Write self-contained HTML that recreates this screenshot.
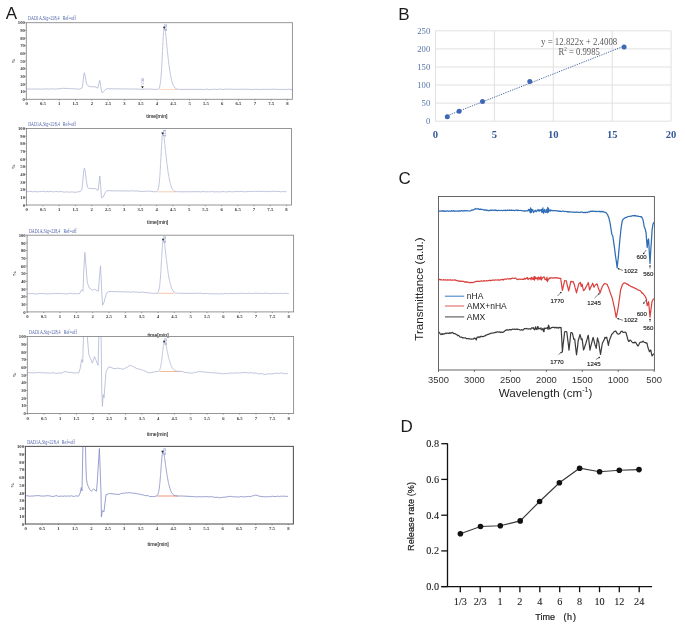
<!DOCTYPE html>
<html><head><meta charset="utf-8"><style>
html,body{margin:0;padding:0;background:#fff;overflow:hidden;}
svg{display:block;will-change:transform;}
</style></head><body>
<svg width="685" height="625" viewBox="0 0 685 625">
<rect width="685" height="625" fill="#fff"/>
<text x="5.7" y="19.0" font-family='"Liberation Sans", sans-serif' font-size="17" fill="#1a1a1a">A</text>
<text x="398.3" y="20.0" font-family='"Liberation Sans", sans-serif' font-size="17" fill="#1a1a1a">B</text>
<text x="398.6" y="183.6" font-family='"Liberation Sans", sans-serif' font-size="17" fill="#1a1a1a">C</text>
<text x="400.6" y="432.0" font-family='"Liberation Sans", sans-serif' font-size="17" fill="#1a1a1a">D</text>

<clipPath id="cp0"><rect x="26.3" y="22.7" width="266.1" height="76.6"/></clipPath>
<text x="28.1" y="20.1" font-family='"Liberation Serif", serif' font-size="5.3" fill="#4b5fa8" textLength="31.5" lengthAdjust="spacingAndGlyphs">DAD1A,Sig=228,4</text>
<text x="62.7" y="20.1" font-family='"Liberation Serif", serif' font-size="5.3" fill="#4b5fa8" textLength="13.1" lengthAdjust="spacingAndGlyphs">Ref=off</text>
<line x1="159.0" y1="89.4" x2="177.0" y2="89.4" stroke="#f6cfb4" stroke-width="0.8"/>
<polyline clip-path="url(#cp0)" fill="none" stroke="#b0b5d4" stroke-width="0.80" stroke-linejoin="round" points="27.0,89.0 28.5,89.0 30.0,89.0 31.5,89.2 33.0,89.0 34.5,89.0 36.0,89.1 37.5,88.9 39.0,89.1 40.5,89.1 42.0,89.2 43.5,88.9 45.0,89.1 46.5,89.0 48.0,88.8 49.5,89.1 51.0,89.0 52.5,88.7 54.0,89.1 55.5,89.1 57.0,88.9 58.5,88.8 60.0,88.7 61.7,88.4 63.3,88.3 65.0,88.4 66.4,88.5 67.8,88.4 69.2,88.5 70.6,88.7 72.0,88.9 73.6,88.7 75.2,88.9 76.8,88.9 78.4,89.2 80.0,89.0 82.0,88.0 82.8,85.0 83.6,76.0 84.3,72.7 85.0,75.0 85.8,80.5 86.8,84.2 88.0,85.8 90.0,86.6 92.0,86.9 94.0,86.6 96.0,87.2 97.8,88.2 98.8,84.0 99.8,80.4 100.6,85.0 101.2,90.0 102.0,92.6 103.0,92.4 104.5,90.5 106.0,89.1 107.5,88.6 110.0,88.8 130.0,89.0 131.4,89.0 132.9,89.1 134.3,89.0 135.7,89.1 137.1,89.1 138.6,89.0 140.0,89.3 141.4,89.4 142.9,89.3 144.3,89.2 145.7,89.1 147.1,89.0 148.6,89.1 150.0,89.2 151.4,89.0 152.8,89.4 154.2,89.2 155.6,89.5 157.0,89.3 157.5,89.4 157.7,89.3 157.9,89.2 158.1,89.1 158.2,89.1 158.3,89.0 158.4,89.0 158.5,88.9 158.6,88.8 158.6,88.8 159.1,88.1 159.6,86.9 159.9,85.6 160.1,84.4 160.3,83.1 160.5,81.8 160.6,80.6 160.8,79.3 160.9,78.1 161.0,76.8 161.1,75.5 161.2,74.3 161.3,73.0 161.4,71.8 161.5,70.5 161.5,69.2 161.6,68.0 161.7,66.7 161.8,65.5 161.8,64.2 161.9,62.9 162.0,61.7 162.0,60.4 162.1,59.2 162.2,57.9 162.2,56.6 162.3,55.4 162.4,54.1 162.4,52.9 162.5,51.6 162.5,50.3 162.6,49.1 162.7,47.8 162.7,46.6 162.8,45.3 162.9,44.0 162.9,42.8 163.0,41.5 163.1,40.3 163.1,39.0 163.2,37.7 163.3,36.5 163.4,35.2 163.4,34.0 163.5,32.7 163.6,31.4 163.7,30.2 163.9,28.9 164.0,27.7 164.4,26.4 164.4,26.4 164.9,27.7 165.1,28.9 165.3,30.2 165.4,31.4 165.6,32.7 165.7,34.0 165.8,35.2 166.0,36.5 166.1,37.7 166.2,39.0 166.3,40.3 166.4,41.5 166.6,42.8 166.7,44.0 166.8,45.3 166.9,46.6 167.1,47.8 167.2,49.1 167.3,50.3 167.4,51.6 167.6,52.9 167.7,54.1 167.8,55.4 168.0,56.6 168.1,57.9 168.3,59.2 168.4,60.4 168.6,61.7 168.7,62.9 168.9,64.2 169.0,65.5 169.2,66.7 169.4,68.0 169.6,69.2 169.8,70.5 170.0,71.8 170.2,73.0 170.4,74.3 170.6,75.5 170.9,76.8 171.1,78.1 171.4,79.3 171.7,80.6 172.1,81.8 172.4,83.1 172.9,84.4 173.4,85.6 174.1,86.9 175.2,88.1 176.2,88.8 176.3,88.8 176.5,88.9 176.7,89.0 176.8,89.0 177.1,89.1 177.3,89.1 177.7,89.2 178.1,89.3 178.9,89.3 182.0,89.4 200.0,89.4 201.4,89.3 202.9,89.6 204.3,89.6 205.7,89.1 207.1,89.2 208.6,89.6 210.0,89.4 211.4,89.6 212.9,89.3 214.3,89.1 215.7,89.4 217.1,89.5 218.6,89.2 220.0,89.1 221.4,89.2 222.9,89.6 224.3,89.4 225.7,89.1 227.1,89.2 228.6,89.1 230.0,89.3 231.4,89.1 232.9,89.5 234.3,89.2 235.7,89.3 237.1,89.3 238.6,89.2 240.0,89.4 241.4,89.2 242.9,89.4 244.3,89.2 245.7,89.3 247.1,89.2 248.6,89.2 250.0,89.6 251.4,89.5 252.9,89.3 254.3,89.6 255.7,89.2 257.1,89.3 258.6,89.6 260.0,89.4 261.4,89.5 262.8,89.2 264.2,89.6 265.6,89.3 267.0,89.3 268.5,89.5 269.9,89.3 271.3,89.3 272.7,89.2 274.1,89.2 275.5,89.4 276.9,89.3 278.3,89.5 279.7,89.3 281.1,89.4 282.5,89.6 283.9,89.4 285.4,89.4 286.8,89.6 288.2,89.2 289.6,89.2 291.0,89.6 292.4,89.4"/>
<rect x="26.3" y="22.7" width="266.1" height="76.6" fill="none" stroke="#8a8a8a" stroke-width="0.90"/>
<line x1="25.1" y1="99.3" x2="26.3" y2="99.3" stroke="#666" stroke-width="0.6"/>
<text x="24.9" y="100.9" font-family='"Liberation Serif", serif' font-size="4.7" font-weight="bold" fill="#333" text-anchor="end">0</text>
<line x1="25.1" y1="91.6" x2="26.3" y2="91.6" stroke="#666" stroke-width="0.6"/>
<text x="24.9" y="93.2" font-family='"Liberation Serif", serif' font-size="4.7" font-weight="bold" fill="#333" text-anchor="end">10</text>
<line x1="25.1" y1="84.0" x2="26.3" y2="84.0" stroke="#666" stroke-width="0.6"/>
<text x="24.9" y="85.6" font-family='"Liberation Serif", serif' font-size="4.7" font-weight="bold" fill="#333" text-anchor="end">20</text>
<line x1="25.1" y1="76.3" x2="26.3" y2="76.3" stroke="#666" stroke-width="0.6"/>
<text x="24.9" y="77.9" font-family='"Liberation Serif", serif' font-size="4.7" font-weight="bold" fill="#333" text-anchor="end">30</text>
<line x1="25.1" y1="68.7" x2="26.3" y2="68.7" stroke="#666" stroke-width="0.6"/>
<text x="24.9" y="70.3" font-family='"Liberation Serif", serif' font-size="4.7" font-weight="bold" fill="#333" text-anchor="end">40</text>
<line x1="25.1" y1="61.0" x2="26.3" y2="61.0" stroke="#666" stroke-width="0.6"/>
<text x="24.9" y="62.6" font-family='"Liberation Serif", serif' font-size="4.7" font-weight="bold" fill="#333" text-anchor="end">50</text>
<line x1="25.1" y1="53.3" x2="26.3" y2="53.3" stroke="#666" stroke-width="0.6"/>
<text x="24.9" y="54.9" font-family='"Liberation Serif", serif' font-size="4.7" font-weight="bold" fill="#333" text-anchor="end">60</text>
<line x1="25.1" y1="45.7" x2="26.3" y2="45.7" stroke="#666" stroke-width="0.6"/>
<text x="24.9" y="47.3" font-family='"Liberation Serif", serif' font-size="4.7" font-weight="bold" fill="#333" text-anchor="end">70</text>
<line x1="25.1" y1="38.0" x2="26.3" y2="38.0" stroke="#666" stroke-width="0.6"/>
<text x="24.9" y="39.6" font-family='"Liberation Serif", serif' font-size="4.7" font-weight="bold" fill="#333" text-anchor="end">80</text>
<line x1="25.1" y1="30.4" x2="26.3" y2="30.4" stroke="#666" stroke-width="0.6"/>
<text x="24.9" y="32.0" font-family='"Liberation Serif", serif' font-size="4.7" font-weight="bold" fill="#333" text-anchor="end">90</text>
<line x1="25.1" y1="22.7" x2="26.3" y2="22.7" stroke="#666" stroke-width="0.6"/>
<text x="24.9" y="24.3" font-family='"Liberation Serif", serif' font-size="4.7" font-weight="bold" fill="#333" text-anchor="end">100</text>
<text transform="translate(15.3,61.0) rotate(-90)" font-family='"Liberation Serif", serif' font-size="5.0" font-weight="bold" fill="#333" text-anchor="middle">%</text>
<line x1="26.6" y1="99.3" x2="26.6" y2="100.5" stroke="#666" stroke-width="0.6"/>
<text x="26.6" y="105.3" font-family='"Liberation Serif", serif' font-size="4.7" font-weight="bold" fill="#333" text-anchor="middle">0</text>
<line x1="42.9" y1="99.3" x2="42.9" y2="100.5" stroke="#666" stroke-width="0.6"/>
<text x="42.9" y="105.3" font-family='"Liberation Serif", serif' font-size="4.7" font-weight="bold" fill="#333" text-anchor="middle">0.5</text>
<line x1="59.2" y1="99.3" x2="59.2" y2="100.5" stroke="#666" stroke-width="0.6"/>
<text x="59.2" y="105.3" font-family='"Liberation Serif", serif' font-size="4.7" font-weight="bold" fill="#333" text-anchor="middle">1</text>
<line x1="75.5" y1="99.3" x2="75.5" y2="100.5" stroke="#666" stroke-width="0.6"/>
<text x="75.5" y="105.3" font-family='"Liberation Serif", serif' font-size="4.7" font-weight="bold" fill="#333" text-anchor="middle">1.5</text>
<line x1="91.8" y1="99.3" x2="91.8" y2="100.5" stroke="#666" stroke-width="0.6"/>
<text x="91.8" y="105.3" font-family='"Liberation Serif", serif' font-size="4.7" font-weight="bold" fill="#333" text-anchor="middle">2</text>
<line x1="108.1" y1="99.3" x2="108.1" y2="100.5" stroke="#666" stroke-width="0.6"/>
<text x="108.1" y="105.3" font-family='"Liberation Serif", serif' font-size="4.7" font-weight="bold" fill="#333" text-anchor="middle">2.5</text>
<line x1="124.4" y1="99.3" x2="124.4" y2="100.5" stroke="#666" stroke-width="0.6"/>
<text x="124.4" y="105.3" font-family='"Liberation Serif", serif' font-size="4.7" font-weight="bold" fill="#333" text-anchor="middle">3</text>
<line x1="140.7" y1="99.3" x2="140.7" y2="100.5" stroke="#666" stroke-width="0.6"/>
<text x="140.7" y="105.3" font-family='"Liberation Serif", serif' font-size="4.7" font-weight="bold" fill="#333" text-anchor="middle">3.5</text>
<line x1="157.0" y1="99.3" x2="157.0" y2="100.5" stroke="#666" stroke-width="0.6"/>
<text x="157.0" y="105.3" font-family='"Liberation Serif", serif' font-size="4.7" font-weight="bold" fill="#333" text-anchor="middle">4</text>
<line x1="173.3" y1="99.3" x2="173.3" y2="100.5" stroke="#666" stroke-width="0.6"/>
<text x="173.3" y="105.3" font-family='"Liberation Serif", serif' font-size="4.7" font-weight="bold" fill="#333" text-anchor="middle">4.5</text>
<line x1="189.6" y1="99.3" x2="189.6" y2="100.5" stroke="#666" stroke-width="0.6"/>
<text x="189.6" y="105.3" font-family='"Liberation Serif", serif' font-size="4.7" font-weight="bold" fill="#333" text-anchor="middle">5</text>
<line x1="205.9" y1="99.3" x2="205.9" y2="100.5" stroke="#666" stroke-width="0.6"/>
<text x="205.9" y="105.3" font-family='"Liberation Serif", serif' font-size="4.7" font-weight="bold" fill="#333" text-anchor="middle">5.5</text>
<line x1="222.2" y1="99.3" x2="222.2" y2="100.5" stroke="#666" stroke-width="0.6"/>
<text x="222.2" y="105.3" font-family='"Liberation Serif", serif' font-size="4.7" font-weight="bold" fill="#333" text-anchor="middle">6</text>
<line x1="238.5" y1="99.3" x2="238.5" y2="100.5" stroke="#666" stroke-width="0.6"/>
<text x="238.5" y="105.3" font-family='"Liberation Serif", serif' font-size="4.7" font-weight="bold" fill="#333" text-anchor="middle">6.5</text>
<line x1="254.8" y1="99.3" x2="254.8" y2="100.5" stroke="#666" stroke-width="0.6"/>
<text x="254.8" y="105.3" font-family='"Liberation Serif", serif' font-size="4.7" font-weight="bold" fill="#333" text-anchor="middle">7</text>
<line x1="271.1" y1="99.3" x2="271.1" y2="100.5" stroke="#666" stroke-width="0.6"/>
<text x="271.1" y="105.3" font-family='"Liberation Serif", serif' font-size="4.7" font-weight="bold" fill="#333" text-anchor="middle">7.5</text>
<line x1="287.4" y1="99.3" x2="287.4" y2="100.5" stroke="#666" stroke-width="0.6"/>
<text x="287.4" y="105.3" font-family='"Liberation Serif", serif' font-size="4.7" font-weight="bold" fill="#333" text-anchor="middle">8</text>
<text x="146.3" y="117.9" font-family='"Liberation Sans", sans-serif' font-size="6.2" fill="#111" stroke="#555" stroke-width="0.12" textLength="21.2" lengthAdjust="spacingAndGlyphs">time[min]</text>
<path d="M162.9,26.8 l2.6,0 l-1.3,2.3 z" fill="#222"/>
<text transform="translate(167.4,31.0) rotate(-90)" font-family='"Liberation Serif", serif' font-size="3.3" fill="#5a6fb5" textLength="6.8" lengthAdjust="spacingAndGlyphs">4.228</text>
<clipPath id="cp1"><rect x="26.4" y="128.5" width="265.1" height="76.5"/></clipPath>
<text x="28.2" y="125.9" font-family='"Liberation Serif", serif' font-size="5.3" fill="#4b5fa8" textLength="31.5" lengthAdjust="spacingAndGlyphs">DAD1A,Sig=228,4</text>
<text x="62.8" y="125.9" font-family='"Liberation Serif", serif' font-size="5.3" fill="#4b5fa8" textLength="13.1" lengthAdjust="spacingAndGlyphs">Ref=off</text>
<line x1="157.9" y1="191.8" x2="176.0" y2="191.8" stroke="#f4c2a0" stroke-width="0.8"/>
<polyline clip-path="url(#cp1)" fill="none" stroke="#b0b5d4" stroke-width="0.80" stroke-linejoin="round" points="26.6,191.5 28.1,191.7 29.5,191.4 31.0,191.3 32.5,191.7 33.9,191.8 35.4,191.4 36.8,191.8 38.3,191.8 39.8,191.6 41.2,191.5 42.7,191.3 44.1,191.3 45.6,191.9 47.1,191.4 48.5,191.7 50.0,191.6 51.4,191.5 52.9,191.9 54.3,191.7 55.7,191.6 57.1,191.5 58.6,191.9 60.0,191.5 61.4,191.7 62.9,191.9 64.3,192.1 65.7,192.0 67.1,191.8 68.6,192.2 70.0,192.0 71.7,192.0 73.3,192.0 75.0,192.4 76.7,192.0 78.3,191.8 80.0,191.6 81.6,190.2 82.6,184.0 83.6,172.0 84.4,168.1 85.2,171.0 86.2,180.0 87.5,187.3 89.0,188.6 91.0,188.3 93.0,188.8 95.0,188.4 97.0,189.5 98.0,190.4 99.0,183.0 99.8,176.0 100.6,185.0 101.5,197.8 103.3,196.8 105.0,193.0 106.8,190.6 110.0,190.8 130.0,191.0 131.4,190.8 132.9,190.9 134.3,191.0 135.7,191.2 137.1,190.9 138.6,191.1 140.0,191.4 141.4,191.5 142.9,191.4 144.3,191.4 145.7,191.4 147.1,191.1 148.6,191.1 150.0,191.4 151.5,191.2 153.0,191.8 154.5,191.7 156.0,191.7 156.5,191.8 156.6,191.6 156.7,191.5 156.8,191.4 156.9,191.4 157.0,191.3 157.1,191.3 157.1,191.2 157.6,190.6 158.1,189.4 158.4,188.3 158.6,187.1 158.8,185.9 159.0,184.7 159.1,183.5 159.3,182.3 159.4,181.2 159.5,180.0 159.6,178.8 159.7,177.6 159.8,176.4 159.9,175.3 160.0,174.1 160.0,172.9 160.1,171.7 160.2,170.5 160.3,169.3 160.3,168.2 160.4,167.0 160.5,165.8 160.5,164.6 160.6,163.4 160.7,162.2 160.7,161.1 160.8,159.9 160.9,158.7 160.9,157.5 161.0,156.3 161.0,155.2 161.1,154.0 161.2,152.8 161.2,151.6 161.3,150.4 161.4,149.2 161.4,148.1 161.5,146.9 161.6,145.7 161.6,144.5 161.7,143.3 161.8,142.2 161.9,141.0 161.9,139.8 162.0,138.6 162.1,137.4 162.2,136.2 162.4,135.1 162.5,133.9 162.9,132.7 162.9,132.7 163.4,133.9 163.7,135.1 163.9,136.2 164.0,137.4 164.2,138.6 164.3,139.8 164.5,141.0 164.6,142.2 164.7,143.3 164.9,144.5 165.0,145.7 165.1,146.9 165.2,148.1 165.4,149.2 165.5,150.4 165.6,151.6 165.7,152.8 165.9,154.0 166.0,155.2 166.1,156.3 166.2,157.5 166.4,158.7 166.5,159.9 166.6,161.1 166.8,162.2 166.9,163.4 167.1,164.6 167.2,165.8 167.4,167.0 167.5,168.2 167.7,169.3 167.9,170.5 168.0,171.7 168.2,172.9 168.4,174.1 168.6,175.3 168.8,176.4 169.0,177.6 169.2,178.8 169.5,180.0 169.7,181.2 170.0,182.3 170.3,183.5 170.6,184.7 171.0,185.9 171.4,187.1 172.0,188.3 172.7,189.4 173.7,190.6 174.7,191.2 174.8,191.3 175.0,191.3 175.2,191.4 175.4,191.4 175.6,191.5 175.8,191.6 176.2,191.6 176.6,191.7 177.4,191.7 182.0,191.8 200.0,191.7 201.4,192.0 202.9,191.4 204.3,191.8 205.7,191.7 207.1,191.8 208.6,191.6 210.0,192.0 211.4,191.4 212.9,191.7 214.3,191.8 215.7,191.9 217.1,191.8 218.6,191.8 220.0,191.8 221.4,191.9 222.9,191.5 224.3,191.7 225.7,191.9 227.1,191.8 228.6,191.6 230.0,191.6 231.4,191.8 232.9,191.8 234.3,191.6 235.7,191.6 237.1,191.5 238.6,191.6 240.0,191.6 241.4,191.3 242.9,191.6 244.3,191.8 245.7,191.7 247.1,191.6 248.6,191.4 250.0,191.6 251.4,191.5 252.9,191.4 254.3,191.6 255.7,191.2 257.1,191.6 258.6,191.1 260.0,191.4 261.5,191.5 262.9,191.4 264.4,191.3 265.9,191.6 267.4,191.5 268.8,191.5 270.3,191.7 271.8,191.3 273.2,191.2 274.7,191.4 276.2,191.6 277.7,191.4 279.1,191.3 280.6,191.8 282.1,191.7 283.6,191.5 285.0,191.8 286.5,191.6"/>
<rect x="26.4" y="128.5" width="265.1" height="76.5" fill="none" stroke="#8a8a8a" stroke-width="0.90"/>
<line x1="25.2" y1="205.0" x2="26.4" y2="205.0" stroke="#666" stroke-width="0.6"/>
<text x="25.0" y="206.6" font-family='"Liberation Serif", serif' font-size="4.7" font-weight="bold" fill="#333" text-anchor="end">0</text>
<line x1="25.2" y1="197.3" x2="26.4" y2="197.3" stroke="#666" stroke-width="0.6"/>
<text x="25.0" y="198.9" font-family='"Liberation Serif", serif' font-size="4.7" font-weight="bold" fill="#333" text-anchor="end">10</text>
<line x1="25.2" y1="189.7" x2="26.4" y2="189.7" stroke="#666" stroke-width="0.6"/>
<text x="25.0" y="191.3" font-family='"Liberation Serif", serif' font-size="4.7" font-weight="bold" fill="#333" text-anchor="end">20</text>
<line x1="25.2" y1="182.1" x2="26.4" y2="182.1" stroke="#666" stroke-width="0.6"/>
<text x="25.0" y="183.7" font-family='"Liberation Serif", serif' font-size="4.7" font-weight="bold" fill="#333" text-anchor="end">30</text>
<line x1="25.2" y1="174.4" x2="26.4" y2="174.4" stroke="#666" stroke-width="0.6"/>
<text x="25.0" y="176.0" font-family='"Liberation Serif", serif' font-size="4.7" font-weight="bold" fill="#333" text-anchor="end">40</text>
<line x1="25.2" y1="166.8" x2="26.4" y2="166.8" stroke="#666" stroke-width="0.6"/>
<text x="25.0" y="168.3" font-family='"Liberation Serif", serif' font-size="4.7" font-weight="bold" fill="#333" text-anchor="end">50</text>
<line x1="25.2" y1="159.1" x2="26.4" y2="159.1" stroke="#666" stroke-width="0.6"/>
<text x="25.0" y="160.7" font-family='"Liberation Serif", serif' font-size="4.7" font-weight="bold" fill="#333" text-anchor="end">60</text>
<line x1="25.2" y1="151.4" x2="26.4" y2="151.4" stroke="#666" stroke-width="0.6"/>
<text x="25.0" y="153.0" font-family='"Liberation Serif", serif' font-size="4.7" font-weight="bold" fill="#333" text-anchor="end">70</text>
<line x1="25.2" y1="143.8" x2="26.4" y2="143.8" stroke="#666" stroke-width="0.6"/>
<text x="25.0" y="145.4" font-family='"Liberation Serif", serif' font-size="4.7" font-weight="bold" fill="#333" text-anchor="end">80</text>
<line x1="25.2" y1="136.2" x2="26.4" y2="136.2" stroke="#666" stroke-width="0.6"/>
<text x="25.0" y="137.8" font-family='"Liberation Serif", serif' font-size="4.7" font-weight="bold" fill="#333" text-anchor="end">90</text>
<line x1="25.2" y1="128.5" x2="26.4" y2="128.5" stroke="#666" stroke-width="0.6"/>
<text x="25.0" y="130.1" font-family='"Liberation Serif", serif' font-size="4.7" font-weight="bold" fill="#333" text-anchor="end">100</text>
<text transform="translate(15.4,166.8) rotate(-90)" font-family='"Liberation Serif", serif' font-size="5.0" font-weight="bold" fill="#333" text-anchor="middle">%</text>
<line x1="26.7" y1="205.0" x2="26.7" y2="206.2" stroke="#666" stroke-width="0.6"/>
<text x="26.7" y="211.0" font-family='"Liberation Serif", serif' font-size="4.7" font-weight="bold" fill="#333" text-anchor="middle">0</text>
<line x1="42.9" y1="205.0" x2="42.9" y2="206.2" stroke="#666" stroke-width="0.6"/>
<text x="42.9" y="211.0" font-family='"Liberation Serif", serif' font-size="4.7" font-weight="bold" fill="#333" text-anchor="middle">0.5</text>
<line x1="59.2" y1="205.0" x2="59.2" y2="206.2" stroke="#666" stroke-width="0.6"/>
<text x="59.2" y="211.0" font-family='"Liberation Serif", serif' font-size="4.7" font-weight="bold" fill="#333" text-anchor="middle">1</text>
<line x1="75.4" y1="205.0" x2="75.4" y2="206.2" stroke="#666" stroke-width="0.6"/>
<text x="75.4" y="211.0" font-family='"Liberation Serif", serif' font-size="4.7" font-weight="bold" fill="#333" text-anchor="middle">1.5</text>
<line x1="91.7" y1="205.0" x2="91.7" y2="206.2" stroke="#666" stroke-width="0.6"/>
<text x="91.7" y="211.0" font-family='"Liberation Serif", serif' font-size="4.7" font-weight="bold" fill="#333" text-anchor="middle">2</text>
<line x1="107.9" y1="205.0" x2="107.9" y2="206.2" stroke="#666" stroke-width="0.6"/>
<text x="107.9" y="211.0" font-family='"Liberation Serif", serif' font-size="4.7" font-weight="bold" fill="#333" text-anchor="middle">2.5</text>
<line x1="124.1" y1="205.0" x2="124.1" y2="206.2" stroke="#666" stroke-width="0.6"/>
<text x="124.1" y="211.0" font-family='"Liberation Serif", serif' font-size="4.7" font-weight="bold" fill="#333" text-anchor="middle">3</text>
<line x1="140.4" y1="205.0" x2="140.4" y2="206.2" stroke="#666" stroke-width="0.6"/>
<text x="140.4" y="211.0" font-family='"Liberation Serif", serif' font-size="4.7" font-weight="bold" fill="#333" text-anchor="middle">3.5</text>
<line x1="156.6" y1="205.0" x2="156.6" y2="206.2" stroke="#666" stroke-width="0.6"/>
<text x="156.6" y="211.0" font-family='"Liberation Serif", serif' font-size="4.7" font-weight="bold" fill="#333" text-anchor="middle">4</text>
<line x1="172.8" y1="205.0" x2="172.8" y2="206.2" stroke="#666" stroke-width="0.6"/>
<text x="172.8" y="211.0" font-family='"Liberation Serif", serif' font-size="4.7" font-weight="bold" fill="#333" text-anchor="middle">4.5</text>
<line x1="189.1" y1="205.0" x2="189.1" y2="206.2" stroke="#666" stroke-width="0.6"/>
<text x="189.1" y="211.0" font-family='"Liberation Serif", serif' font-size="4.7" font-weight="bold" fill="#333" text-anchor="middle">5</text>
<line x1="205.3" y1="205.0" x2="205.3" y2="206.2" stroke="#666" stroke-width="0.6"/>
<text x="205.3" y="211.0" font-family='"Liberation Serif", serif' font-size="4.7" font-weight="bold" fill="#333" text-anchor="middle">5.5</text>
<line x1="221.6" y1="205.0" x2="221.6" y2="206.2" stroke="#666" stroke-width="0.6"/>
<text x="221.6" y="211.0" font-family='"Liberation Serif", serif' font-size="4.7" font-weight="bold" fill="#333" text-anchor="middle">6</text>
<line x1="237.8" y1="205.0" x2="237.8" y2="206.2" stroke="#666" stroke-width="0.6"/>
<text x="237.8" y="211.0" font-family='"Liberation Serif", serif' font-size="4.7" font-weight="bold" fill="#333" text-anchor="middle">6.5</text>
<line x1="254.0" y1="205.0" x2="254.0" y2="206.2" stroke="#666" stroke-width="0.6"/>
<text x="254.0" y="211.0" font-family='"Liberation Serif", serif' font-size="4.7" font-weight="bold" fill="#333" text-anchor="middle">7</text>
<line x1="270.3" y1="205.0" x2="270.3" y2="206.2" stroke="#666" stroke-width="0.6"/>
<text x="270.3" y="211.0" font-family='"Liberation Serif", serif' font-size="4.7" font-weight="bold" fill="#333" text-anchor="middle">7.5</text>
<line x1="286.5" y1="205.0" x2="286.5" y2="206.2" stroke="#666" stroke-width="0.6"/>
<text x="286.5" y="211.0" font-family='"Liberation Serif", serif' font-size="4.7" font-weight="bold" fill="#333" text-anchor="middle">8</text>
<text x="147.1" y="223.7" font-family='"Liberation Sans", sans-serif' font-size="6.2" fill="#111" stroke="#555" stroke-width="0.12" textLength="21.2" lengthAdjust="spacingAndGlyphs">time[min]</text>
<path d="M161.3,132.4 l2.6,0 l-1.3,2.3 z" fill="#222"/>
<text transform="translate(165.8,136.6) rotate(-90)" font-family='"Liberation Serif", serif' font-size="3.3" fill="#5a6fb5" textLength="6.8" lengthAdjust="spacingAndGlyphs">4.228</text>
<clipPath id="cp2"><rect x="27.1" y="235.2" width="266.5" height="76.7"/></clipPath>
<text x="28.9" y="232.6" font-family='"Liberation Serif", serif' font-size="5.3" fill="#4b5fa8" textLength="31.5" lengthAdjust="spacingAndGlyphs">DAD1A,Sig=228,4</text>
<text x="63.5" y="232.6" font-family='"Liberation Serif", serif' font-size="5.3" fill="#4b5fa8" textLength="13.1" lengthAdjust="spacingAndGlyphs">Ref=off</text>
<line x1="158.5" y1="293.3" x2="174.0" y2="293.3" stroke="#f2b892" stroke-width="0.8"/>
<polyline clip-path="url(#cp2)" fill="none" stroke="#b0b5d4" stroke-width="0.80" stroke-linejoin="round" points="27.2,293.7 28.6,293.6 30.1,293.8 31.5,293.5 32.9,293.6 34.3,293.9 35.8,294.0 37.2,293.9 38.6,293.6 40.0,293.7 41.5,293.5 42.9,293.4 44.3,293.6 45.7,293.9 47.1,293.9 48.6,293.8 50.0,293.6 51.4,293.9 52.8,293.5 54.2,293.4 55.6,293.6 57.0,293.5 58.5,293.4 59.9,293.6 61.3,293.7 62.7,293.6 64.1,293.5 65.5,293.9 66.9,294.0 68.3,293.6 69.7,293.4 71.1,293.3 72.6,293.9 74.0,293.4 75.4,293.8 76.8,293.7 78.2,293.6 79.6,293.7 81.0,290.5 81.8,289.8 83.0,291.3 83.8,270.0 84.9,252.4 85.9,265.0 87.3,282.6 89.2,287.9 92.6,290.3 94.5,289.2 98.3,291.3 99.4,278.0 100.5,265.8 101.2,280.0 101.7,291.3 102.6,305.2 104.0,302.3 106.5,293.2 108.9,291.5 130.0,292.0 131.5,292.3 133.0,291.8 134.5,291.9 136.0,292.2 137.5,292.0 139.0,292.6 140.5,292.2 142.0,292.2 143.5,292.2 145.0,292.6 146.5,292.8 148.0,292.7 149.5,293.0 151.0,293.1 152.5,293.3 154.0,293.4 155.5,293.3 157.0,293.3 157.5,293.3 157.6,292.8 157.6,292.8 158.1,292.2 158.6,291.1 158.9,290.0 159.1,289.0 159.3,287.9 159.5,286.8 159.6,285.7 159.8,284.6 159.9,283.5 160.0,282.4 160.1,281.4 160.2,280.3 160.3,279.2 160.4,278.1 160.5,277.0 160.5,275.9 160.6,274.8 160.7,273.8 160.8,272.7 160.8,271.6 160.9,270.5 161.0,269.4 161.0,268.3 161.1,267.2 161.2,266.1 161.2,265.1 161.3,264.0 161.4,262.9 161.4,261.8 161.5,260.7 161.5,259.6 161.6,258.5 161.7,257.5 161.7,256.4 161.8,255.3 161.9,254.2 161.9,253.1 162.0,252.0 162.1,250.9 162.1,249.9 162.2,248.8 162.3,247.7 162.4,246.6 162.4,245.5 162.5,244.4 162.6,243.3 162.7,242.3 162.9,241.2 163.0,240.1 163.4,239.0 163.4,239.0 163.9,240.1 164.2,241.2 164.3,242.3 164.5,243.3 164.7,244.4 164.8,245.5 164.9,246.6 165.1,247.7 165.2,248.8 165.3,249.9 165.4,250.9 165.6,252.0 165.7,253.1 165.8,254.2 165.9,255.3 166.0,256.4 166.2,257.5 166.3,258.5 166.4,259.6 166.6,260.7 166.7,261.8 166.8,262.9 167.0,264.0 167.1,265.1 167.2,266.1 167.4,267.2 167.5,268.3 167.7,269.4 167.8,270.5 168.0,271.6 168.1,272.7 168.3,273.8 168.5,274.8 168.7,275.9 168.8,277.0 169.0,278.1 169.2,279.2 169.5,280.3 169.7,281.4 169.9,282.4 170.2,283.5 170.5,284.6 170.8,285.7 171.1,286.8 171.5,287.9 171.9,289.0 172.5,290.0 173.2,291.1 174.2,292.2 175.2,292.8 175.3,292.8 175.5,292.9 175.7,292.9 175.9,293.0 176.1,293.0 176.3,293.1 176.7,293.1 177.1,293.2 177.9,293.2 182.0,293.3 195.0,293.4 196.4,293.2 197.9,293.4 199.3,293.3 200.7,293.2 202.1,293.5 203.6,293.7 205.0,293.4 206.4,293.5 207.9,293.5 209.3,293.8 210.7,293.7 212.1,293.8 213.6,294.0 215.0,293.8 216.4,293.7 217.9,293.9 219.3,294.0 220.7,293.4 222.1,294.0 223.6,293.8 225.0,293.3 226.4,293.5 227.9,293.6 229.3,293.8 230.7,293.4 232.1,293.5 233.6,293.7 235.0,293.4 236.4,293.6 237.9,293.7 239.3,293.3 240.7,293.4 242.1,293.1 243.6,293.5 245.0,293.5 246.4,293.4 247.9,293.4 249.3,293.1 250.7,293.5 252.1,293.6 253.6,293.5 255.0,293.2 256.5,293.3 258.0,293.5 259.5,293.2 261.0,293.6 262.5,293.6 264.0,293.3 265.5,293.1 267.0,293.4 268.5,293.5 270.0,293.5 271.4,293.7 272.9,293.5 274.3,293.2 275.8,293.7 277.2,293.2 278.7,293.8 280.1,293.3 281.6,293.4 283.0,293.8 284.5,293.3 285.9,293.3 287.4,293.6 288.8,293.6"/>
<rect x="27.1" y="235.2" width="266.5" height="76.7" fill="none" stroke="#8a8a8a" stroke-width="0.90"/>
<line x1="25.9" y1="311.9" x2="27.1" y2="311.9" stroke="#666" stroke-width="0.6"/>
<text x="25.7" y="313.5" font-family='"Liberation Serif", serif' font-size="4.7" font-weight="bold" fill="#333" text-anchor="end">0</text>
<line x1="25.9" y1="304.2" x2="27.1" y2="304.2" stroke="#666" stroke-width="0.6"/>
<text x="25.7" y="305.8" font-family='"Liberation Serif", serif' font-size="4.7" font-weight="bold" fill="#333" text-anchor="end">10</text>
<line x1="25.9" y1="296.6" x2="27.1" y2="296.6" stroke="#666" stroke-width="0.6"/>
<text x="25.7" y="298.2" font-family='"Liberation Serif", serif' font-size="4.7" font-weight="bold" fill="#333" text-anchor="end">20</text>
<line x1="25.9" y1="288.9" x2="27.1" y2="288.9" stroke="#666" stroke-width="0.6"/>
<text x="25.7" y="290.5" font-family='"Liberation Serif", serif' font-size="4.7" font-weight="bold" fill="#333" text-anchor="end">30</text>
<line x1="25.9" y1="281.2" x2="27.1" y2="281.2" stroke="#666" stroke-width="0.6"/>
<text x="25.7" y="282.8" font-family='"Liberation Serif", serif' font-size="4.7" font-weight="bold" fill="#333" text-anchor="end">40</text>
<line x1="25.9" y1="273.5" x2="27.1" y2="273.5" stroke="#666" stroke-width="0.6"/>
<text x="25.7" y="275.1" font-family='"Liberation Serif", serif' font-size="4.7" font-weight="bold" fill="#333" text-anchor="end">50</text>
<line x1="25.9" y1="265.9" x2="27.1" y2="265.9" stroke="#666" stroke-width="0.6"/>
<text x="25.7" y="267.5" font-family='"Liberation Serif", serif' font-size="4.7" font-weight="bold" fill="#333" text-anchor="end">60</text>
<line x1="25.9" y1="258.2" x2="27.1" y2="258.2" stroke="#666" stroke-width="0.6"/>
<text x="25.7" y="259.8" font-family='"Liberation Serif", serif' font-size="4.7" font-weight="bold" fill="#333" text-anchor="end">70</text>
<line x1="25.9" y1="250.5" x2="27.1" y2="250.5" stroke="#666" stroke-width="0.6"/>
<text x="25.7" y="252.1" font-family='"Liberation Serif", serif' font-size="4.7" font-weight="bold" fill="#333" text-anchor="end">80</text>
<line x1="25.9" y1="242.9" x2="27.1" y2="242.9" stroke="#666" stroke-width="0.6"/>
<text x="25.7" y="244.5" font-family='"Liberation Serif", serif' font-size="4.7" font-weight="bold" fill="#333" text-anchor="end">90</text>
<line x1="25.9" y1="235.2" x2="27.1" y2="235.2" stroke="#666" stroke-width="0.6"/>
<text x="25.7" y="236.8" font-family='"Liberation Serif", serif' font-size="4.7" font-weight="bold" fill="#333" text-anchor="end">100</text>
<text transform="translate(16.1,273.5) rotate(-90)" font-family='"Liberation Serif", serif' font-size="5.0" font-weight="bold" fill="#333" text-anchor="middle">%</text>
<line x1="27.4" y1="311.9" x2="27.4" y2="313.1" stroke="#666" stroke-width="0.6"/>
<text x="27.4" y="317.9" font-family='"Liberation Serif", serif' font-size="4.7" font-weight="bold" fill="#333" text-anchor="middle">0</text>
<line x1="43.7" y1="311.9" x2="43.7" y2="313.1" stroke="#666" stroke-width="0.6"/>
<text x="43.7" y="317.9" font-family='"Liberation Serif", serif' font-size="4.7" font-weight="bold" fill="#333" text-anchor="middle">0.5</text>
<line x1="60.0" y1="311.9" x2="60.0" y2="313.1" stroke="#666" stroke-width="0.6"/>
<text x="60.0" y="317.9" font-family='"Liberation Serif", serif' font-size="4.7" font-weight="bold" fill="#333" text-anchor="middle">1</text>
<line x1="76.4" y1="311.9" x2="76.4" y2="313.1" stroke="#666" stroke-width="0.6"/>
<text x="76.4" y="317.9" font-family='"Liberation Serif", serif' font-size="4.7" font-weight="bold" fill="#333" text-anchor="middle">1.5</text>
<line x1="92.7" y1="311.9" x2="92.7" y2="313.1" stroke="#666" stroke-width="0.6"/>
<text x="92.7" y="317.9" font-family='"Liberation Serif", serif' font-size="4.7" font-weight="bold" fill="#333" text-anchor="middle">2</text>
<line x1="109.0" y1="311.9" x2="109.0" y2="313.1" stroke="#666" stroke-width="0.6"/>
<text x="109.0" y="317.9" font-family='"Liberation Serif", serif' font-size="4.7" font-weight="bold" fill="#333" text-anchor="middle">2.5</text>
<line x1="125.3" y1="311.9" x2="125.3" y2="313.1" stroke="#666" stroke-width="0.6"/>
<text x="125.3" y="317.9" font-family='"Liberation Serif", serif' font-size="4.7" font-weight="bold" fill="#333" text-anchor="middle">3</text>
<line x1="141.7" y1="311.9" x2="141.7" y2="313.1" stroke="#666" stroke-width="0.6"/>
<text x="141.7" y="317.9" font-family='"Liberation Serif", serif' font-size="4.7" font-weight="bold" fill="#333" text-anchor="middle">3.5</text>
<line x1="158.0" y1="311.9" x2="158.0" y2="313.1" stroke="#666" stroke-width="0.6"/>
<text x="158.0" y="317.9" font-family='"Liberation Serif", serif' font-size="4.7" font-weight="bold" fill="#333" text-anchor="middle">4</text>
<line x1="174.3" y1="311.9" x2="174.3" y2="313.1" stroke="#666" stroke-width="0.6"/>
<text x="174.3" y="317.9" font-family='"Liberation Serif", serif' font-size="4.7" font-weight="bold" fill="#333" text-anchor="middle">4.5</text>
<line x1="190.7" y1="311.9" x2="190.7" y2="313.1" stroke="#666" stroke-width="0.6"/>
<text x="190.7" y="317.9" font-family='"Liberation Serif", serif' font-size="4.7" font-weight="bold" fill="#333" text-anchor="middle">5</text>
<line x1="207.0" y1="311.9" x2="207.0" y2="313.1" stroke="#666" stroke-width="0.6"/>
<text x="207.0" y="317.9" font-family='"Liberation Serif", serif' font-size="4.7" font-weight="bold" fill="#333" text-anchor="middle">5.5</text>
<line x1="223.3" y1="311.9" x2="223.3" y2="313.1" stroke="#666" stroke-width="0.6"/>
<text x="223.3" y="317.9" font-family='"Liberation Serif", serif' font-size="4.7" font-weight="bold" fill="#333" text-anchor="middle">6</text>
<line x1="239.6" y1="311.9" x2="239.6" y2="313.1" stroke="#666" stroke-width="0.6"/>
<text x="239.6" y="317.9" font-family='"Liberation Serif", serif' font-size="4.7" font-weight="bold" fill="#333" text-anchor="middle">6.5</text>
<line x1="255.9" y1="311.9" x2="255.9" y2="313.1" stroke="#666" stroke-width="0.6"/>
<text x="255.9" y="317.9" font-family='"Liberation Serif", serif' font-size="4.7" font-weight="bold" fill="#333" text-anchor="middle">7</text>
<line x1="272.3" y1="311.9" x2="272.3" y2="313.1" stroke="#666" stroke-width="0.6"/>
<text x="272.3" y="317.9" font-family='"Liberation Serif", serif' font-size="4.7" font-weight="bold" fill="#333" text-anchor="middle">7.5</text>
<line x1="288.6" y1="311.9" x2="288.6" y2="313.1" stroke="#666" stroke-width="0.6"/>
<text x="288.6" y="317.9" font-family='"Liberation Serif", serif' font-size="4.7" font-weight="bold" fill="#333" text-anchor="middle">8</text>
<text x="147.5" y="336.5" font-family='"Liberation Sans", sans-serif' font-size="6.2" fill="#111" stroke="#555" stroke-width="0.12" textLength="21.2" lengthAdjust="spacingAndGlyphs">time[min]</text>
<path d="M161.8,238.8 l2.6,0 l-1.3,2.3 z" fill="#222"/>
<text transform="translate(166.3,243.0) rotate(-90)" font-family='"Liberation Serif", serif' font-size="3.3" fill="#5a6fb5" textLength="6.8" lengthAdjust="spacingAndGlyphs">4.228</text>
<clipPath id="cp3"><rect x="27.3" y="336.5" width="266.3" height="77.0"/></clipPath>
<text x="29.1" y="333.9" font-family='"Liberation Serif", serif' font-size="5.3" fill="#4b5fa8" textLength="31.5" lengthAdjust="spacingAndGlyphs">DAD1A,Sig=228,4</text>
<text x="63.7" y="333.9" font-family='"Liberation Serif", serif' font-size="5.3" fill="#4b5fa8" textLength="13.1" lengthAdjust="spacingAndGlyphs">Ref=off</text>
<line x1="159.6" y1="371.5" x2="180.0" y2="371.5" stroke="#f0a880" stroke-width="0.8"/>
<polyline clip-path="url(#cp3)" fill="none" stroke="#b0b5d4" stroke-width="0.80" stroke-linejoin="round" points="27.4,372.5 28.9,372.7 30.3,372.8 31.8,372.7 33.3,373.0 34.7,372.6 36.2,373.0 37.7,372.3 39.1,372.5 40.6,372.7 42.1,372.6 43.5,373.0 45.0,372.8 46.5,373.0 48.0,372.9 49.5,373.2 51.0,373.0 52.5,372.8 54.0,372.9 55.5,373.4 57.0,373.4 58.5,372.9 60.0,373.2 61.7,372.9 63.3,372.4 65.0,371.4 66.8,371.9 68.6,372.4 70.0,372.6 71.5,372.4 72.9,372.8 74.4,372.9 75.8,373.1 77.3,372.7 78.7,373.2 80.1,368.8 81.6,359.5 82.7,362.4 84.0,320.0 84.8,300.0 86.5,300.0 87.3,336.5 88.8,354.5 92.4,363.1 94.5,356.6 98.1,365.3 99.0,330.0 100.0,300.0 101.0,330.0 101.4,360.0 101.7,387.6 102.4,406.3 103.2,394.7 104.0,398.0 105.0,385.0 106.0,371.7 108.9,366.7 114.0,368.6 115.8,368.7 117.6,368.1 119.0,368.4 120.4,368.5 121.9,369.1 123.3,369.1 124.7,368.4 126.2,367.6 127.6,367.0 129.1,365.7 130.5,365.3 132.0,366.1 133.5,366.7 135.0,367.5 136.7,368.5 138.5,369.0 140.2,369.3 141.8,369.8 143.5,370.6 145.1,371.0 146.8,372.0 148.4,372.7 150.1,372.7 151.7,372.6 153.3,372.0 155.0,371.8 158.0,371.4 158.5,371.4 158.9,370.8 159.4,370.2 159.8,369.6 160.0,369.0 160.2,368.4 160.4,367.8 160.5,367.2 160.7,366.6 160.8,366.0 160.9,365.4 161.0,364.8 161.1,364.2 161.2,363.5 161.3,362.9 161.4,362.3 161.5,361.7 161.6,361.1 161.6,360.5 161.7,359.9 161.8,359.3 161.9,358.7 161.9,358.1 162.0,357.5 162.1,356.9 162.1,356.3 162.2,355.7 162.3,355.1 162.3,354.5 162.4,353.9 162.5,353.3 162.5,352.7 162.6,352.1 162.7,351.5 162.7,350.9 162.8,350.3 162.9,349.7 162.9,349.1 163.0,348.4 163.1,347.8 163.2,347.2 163.2,346.6 163.3,346.0 163.4,345.4 163.5,344.8 163.6,344.2 163.7,343.6 163.8,343.0 163.9,342.4 164.1,341.8 164.5,341.2 164.5,341.2 165.0,341.8 165.3,342.4 165.4,343.0 165.6,343.6 165.8,344.2 165.9,344.8 166.0,345.4 166.2,346.0 166.3,346.6 166.4,347.2 166.5,347.8 166.7,348.4 166.8,349.1 166.9,349.7 167.0,350.3 167.1,350.9 167.3,351.5 167.4,352.1 167.5,352.7 167.7,353.3 167.8,353.9 167.9,354.5 168.1,355.1 168.2,355.7 168.3,356.3 168.5,356.9 168.6,357.5 168.8,358.1 168.9,358.7 169.1,359.3 169.2,359.9 169.4,360.5 169.6,361.1 169.8,361.7 169.9,362.3 170.1,362.9 170.3,363.5 170.6,364.2 170.8,364.8 171.0,365.4 171.3,366.0 171.6,366.6 171.9,367.2 172.2,367.8 172.6,368.4 173.0,369.0 173.6,369.6 174.3,370.2 175.3,370.8 176.3,371.1 176.4,371.1 176.6,371.2 176.8,371.2 177.0,371.2 177.2,371.2 177.4,371.3 177.8,371.3 178.2,371.3 179.0,371.4 182.0,371.4 185.0,372.5 186.6,372.5 188.2,372.6 189.7,373.0 191.3,373.1 193.0,373.2 194.6,372.2 196.3,372.5 197.9,371.6 199.6,371.7 201.1,371.6 202.6,371.7 204.1,372.2 205.5,372.1 207.0,372.2 208.5,372.6 210.0,372.6 211.5,372.4 213.0,373.1 214.6,372.7 216.1,373.1 217.6,373.1 219.1,373.2 220.7,373.6 222.2,373.6 223.7,373.8 225.1,373.6 226.5,373.5 227.9,373.5 229.3,373.1 230.8,373.0 232.2,373.2 233.6,373.1 235.0,372.9 236.6,372.9 238.1,373.1 239.7,372.8 241.3,373.0 242.9,372.4 244.4,372.7 246.0,372.5 247.5,372.8 249.0,373.0 250.5,372.6 252.0,372.7 253.5,373.3 255.0,373.0 256.5,373.0 258.0,373.8 259.5,373.9 261.0,373.5 262.5,373.8 264.0,374.4 265.5,374.4 267.1,374.0 268.7,373.7 270.2,374.2 271.8,373.7 273.4,373.8 275.0,373.4 276.4,373.1 277.9,373.3 279.3,373.5 280.8,373.0 282.2,373.1 283.7,373.5 285.1,373.7 286.6,373.7 288.0,373.3"/>
<rect x="27.3" y="336.5" width="266.3" height="77.0" fill="none" stroke="#8a8a8a" stroke-width="0.90"/>
<line x1="26.1" y1="413.5" x2="27.3" y2="413.5" stroke="#666" stroke-width="0.6"/>
<text x="25.9" y="415.1" font-family='"Liberation Serif", serif' font-size="4.7" font-weight="bold" fill="#333" text-anchor="end">0</text>
<line x1="26.1" y1="405.8" x2="27.3" y2="405.8" stroke="#666" stroke-width="0.6"/>
<text x="25.9" y="407.4" font-family='"Liberation Serif", serif' font-size="4.7" font-weight="bold" fill="#333" text-anchor="end">10</text>
<line x1="26.1" y1="398.1" x2="27.3" y2="398.1" stroke="#666" stroke-width="0.6"/>
<text x="25.9" y="399.7" font-family='"Liberation Serif", serif' font-size="4.7" font-weight="bold" fill="#333" text-anchor="end">20</text>
<line x1="26.1" y1="390.4" x2="27.3" y2="390.4" stroke="#666" stroke-width="0.6"/>
<text x="25.9" y="392.0" font-family='"Liberation Serif", serif' font-size="4.7" font-weight="bold" fill="#333" text-anchor="end">30</text>
<line x1="26.1" y1="382.7" x2="27.3" y2="382.7" stroke="#666" stroke-width="0.6"/>
<text x="25.9" y="384.3" font-family='"Liberation Serif", serif' font-size="4.7" font-weight="bold" fill="#333" text-anchor="end">40</text>
<line x1="26.1" y1="375.0" x2="27.3" y2="375.0" stroke="#666" stroke-width="0.6"/>
<text x="25.9" y="376.6" font-family='"Liberation Serif", serif' font-size="4.7" font-weight="bold" fill="#333" text-anchor="end">50</text>
<line x1="26.1" y1="367.3" x2="27.3" y2="367.3" stroke="#666" stroke-width="0.6"/>
<text x="25.9" y="368.9" font-family='"Liberation Serif", serif' font-size="4.7" font-weight="bold" fill="#333" text-anchor="end">60</text>
<line x1="26.1" y1="359.6" x2="27.3" y2="359.6" stroke="#666" stroke-width="0.6"/>
<text x="25.9" y="361.2" font-family='"Liberation Serif", serif' font-size="4.7" font-weight="bold" fill="#333" text-anchor="end">70</text>
<line x1="26.1" y1="351.9" x2="27.3" y2="351.9" stroke="#666" stroke-width="0.6"/>
<text x="25.9" y="353.5" font-family='"Liberation Serif", serif' font-size="4.7" font-weight="bold" fill="#333" text-anchor="end">80</text>
<line x1="26.1" y1="344.2" x2="27.3" y2="344.2" stroke="#666" stroke-width="0.6"/>
<text x="25.9" y="345.8" font-family='"Liberation Serif", serif' font-size="4.7" font-weight="bold" fill="#333" text-anchor="end">90</text>
<line x1="26.1" y1="336.5" x2="27.3" y2="336.5" stroke="#666" stroke-width="0.6"/>
<text x="25.9" y="338.1" font-family='"Liberation Serif", serif' font-size="4.7" font-weight="bold" fill="#333" text-anchor="end">100</text>
<text transform="translate(16.3,375.0) rotate(-90)" font-family='"Liberation Serif", serif' font-size="5.0" font-weight="bold" fill="#333" text-anchor="middle">%</text>
<line x1="27.6" y1="413.5" x2="27.6" y2="414.7" stroke="#666" stroke-width="0.6"/>
<text x="27.6" y="419.5" font-family='"Liberation Serif", serif' font-size="4.7" font-weight="bold" fill="#333" text-anchor="middle">0</text>
<line x1="43.9" y1="413.5" x2="43.9" y2="414.7" stroke="#666" stroke-width="0.6"/>
<text x="43.9" y="419.5" font-family='"Liberation Serif", serif' font-size="4.7" font-weight="bold" fill="#333" text-anchor="middle">0.5</text>
<line x1="60.2" y1="413.5" x2="60.2" y2="414.7" stroke="#666" stroke-width="0.6"/>
<text x="60.2" y="419.5" font-family='"Liberation Serif", serif' font-size="4.7" font-weight="bold" fill="#333" text-anchor="middle">1</text>
<line x1="76.5" y1="413.5" x2="76.5" y2="414.7" stroke="#666" stroke-width="0.6"/>
<text x="76.5" y="419.5" font-family='"Liberation Serif", serif' font-size="4.7" font-weight="bold" fill="#333" text-anchor="middle">1.5</text>
<line x1="92.8" y1="413.5" x2="92.8" y2="414.7" stroke="#666" stroke-width="0.6"/>
<text x="92.8" y="419.5" font-family='"Liberation Serif", serif' font-size="4.7" font-weight="bold" fill="#333" text-anchor="middle">2</text>
<line x1="109.2" y1="413.5" x2="109.2" y2="414.7" stroke="#666" stroke-width="0.6"/>
<text x="109.2" y="419.5" font-family='"Liberation Serif", serif' font-size="4.7" font-weight="bold" fill="#333" text-anchor="middle">2.5</text>
<line x1="125.5" y1="413.5" x2="125.5" y2="414.7" stroke="#666" stroke-width="0.6"/>
<text x="125.5" y="419.5" font-family='"Liberation Serif", serif' font-size="4.7" font-weight="bold" fill="#333" text-anchor="middle">3</text>
<line x1="141.8" y1="413.5" x2="141.8" y2="414.7" stroke="#666" stroke-width="0.6"/>
<text x="141.8" y="419.5" font-family='"Liberation Serif", serif' font-size="4.7" font-weight="bold" fill="#333" text-anchor="middle">3.5</text>
<line x1="158.1" y1="413.5" x2="158.1" y2="414.7" stroke="#666" stroke-width="0.6"/>
<text x="158.1" y="419.5" font-family='"Liberation Serif", serif' font-size="4.7" font-weight="bold" fill="#333" text-anchor="middle">4</text>
<line x1="174.4" y1="413.5" x2="174.4" y2="414.7" stroke="#666" stroke-width="0.6"/>
<text x="174.4" y="419.5" font-family='"Liberation Serif", serif' font-size="4.7" font-weight="bold" fill="#333" text-anchor="middle">4.5</text>
<line x1="190.7" y1="413.5" x2="190.7" y2="414.7" stroke="#666" stroke-width="0.6"/>
<text x="190.7" y="419.5" font-family='"Liberation Serif", serif' font-size="4.7" font-weight="bold" fill="#333" text-anchor="middle">5</text>
<line x1="207.0" y1="413.5" x2="207.0" y2="414.7" stroke="#666" stroke-width="0.6"/>
<text x="207.0" y="419.5" font-family='"Liberation Serif", serif' font-size="4.7" font-weight="bold" fill="#333" text-anchor="middle">5.5</text>
<line x1="223.3" y1="413.5" x2="223.3" y2="414.7" stroke="#666" stroke-width="0.6"/>
<text x="223.3" y="419.5" font-family='"Liberation Serif", serif' font-size="4.7" font-weight="bold" fill="#333" text-anchor="middle">6</text>
<line x1="239.7" y1="413.5" x2="239.7" y2="414.7" stroke="#666" stroke-width="0.6"/>
<text x="239.7" y="419.5" font-family='"Liberation Serif", serif' font-size="4.7" font-weight="bold" fill="#333" text-anchor="middle">6.5</text>
<line x1="256.0" y1="413.5" x2="256.0" y2="414.7" stroke="#666" stroke-width="0.6"/>
<text x="256.0" y="419.5" font-family='"Liberation Serif", serif' font-size="4.7" font-weight="bold" fill="#333" text-anchor="middle">7</text>
<line x1="272.3" y1="413.5" x2="272.3" y2="414.7" stroke="#666" stroke-width="0.6"/>
<text x="272.3" y="419.5" font-family='"Liberation Serif", serif' font-size="4.7" font-weight="bold" fill="#333" text-anchor="middle">7.5</text>
<line x1="288.6" y1="413.5" x2="288.6" y2="414.7" stroke="#666" stroke-width="0.6"/>
<text x="288.6" y="419.5" font-family='"Liberation Serif", serif' font-size="4.7" font-weight="bold" fill="#333" text-anchor="middle">8</text>
<text x="146.9" y="435.9" font-family='"Liberation Sans", sans-serif' font-size="6.2" fill="#111" stroke="#555" stroke-width="0.12" textLength="21.2" lengthAdjust="spacingAndGlyphs">time[min]</text>
<path d="M162.8,340.8 l2.6,0 l-1.3,2.3 z" fill="#222"/>
<text transform="translate(167.3,345.0) rotate(-90)" font-family='"Liberation Serif", serif' font-size="3.3" fill="#5a6fb5" textLength="6.8" lengthAdjust="spacingAndGlyphs">4.228</text>
<clipPath id="cp4"><rect x="25.4" y="446.4" width="268.0" height="77.6"/></clipPath>
<text x="27.2" y="443.8" font-family='"Liberation Serif", serif' font-size="5.3" fill="#4b5fa8" textLength="31.5" lengthAdjust="spacingAndGlyphs">DAD1A,Sig=228,4</text>
<text x="61.8" y="443.8" font-family='"Liberation Serif", serif' font-size="5.3" fill="#4b5fa8" textLength="13.1" lengthAdjust="spacingAndGlyphs">Ref=off</text>
<line x1="157.4" y1="496.0" x2="178.0" y2="496.0" stroke="#e87a55" stroke-width="0.8"/>
<polyline clip-path="url(#cp4)" fill="none" stroke="#8790c4" stroke-width="0.85" stroke-linejoin="round" points="25.6,496.0 27.1,495.7 28.6,496.0 30.1,496.2 31.6,496.0 33.1,496.1 34.6,495.8 36.0,495.7 37.5,495.7 39.0,495.6 40.5,496.0 42.0,496.0 43.5,496.1 45.0,496.0 46.5,495.7 48.0,495.8 49.5,495.8 51.0,496.3 52.5,496.4 54.0,496.4 55.5,495.7 57.0,495.7 58.5,496.5 60.0,496.1 61.4,496.1 62.9,496.3 64.3,496.0 65.8,496.1 67.2,496.1 68.6,496.0 70.1,496.2 71.5,495.7 72.9,496.3 74.4,496.4 75.8,495.8 77.3,496.1 78.7,496.1 80.1,493.2 81.3,487.5 82.0,491.0 83.0,440.0 84.0,420.0 85.0,420.0 85.5,446.5 85.9,465.0 86.4,478.4 87.2,483.6 88.2,486.3 89.6,489.2 91.3,491.2 93.5,489.0 96.5,491.2 97.4,480.0 98.3,465.0 99.4,448.5 100.2,470.0 101.0,493.2 101.4,517.0 102.4,510.5 103.9,512.0 106.0,494.7 109.6,493.5 117.6,494.4 119.0,494.4 120.4,493.8 121.9,493.4 123.3,493.2 124.7,493.2 126.2,492.6 127.6,493.1 129.0,492.5 130.5,492.9 132.0,493.0 133.5,493.3 135.0,493.2 136.7,493.7 138.4,493.9 140.1,494.3 141.6,494.7 143.2,494.9 144.7,495.5 146.2,495.7 147.8,495.5 149.3,496.4 150.9,496.5 152.4,496.6 154.4,496.5 156.5,496.0 156.8,496.0 156.9,495.6 156.9,495.6 157.4,495.1 157.9,494.2 158.3,493.3 158.5,492.4 158.7,491.5 158.9,490.6 159.0,489.7 159.2,488.8 159.3,487.9 159.4,487.0 159.5,486.1 159.6,485.2 159.7,484.4 159.8,483.5 159.9,482.6 160.0,481.7 160.1,480.8 160.1,479.9 160.2,479.0 160.3,478.1 160.4,477.2 160.4,476.3 160.5,475.4 160.6,474.5 160.6,473.6 160.7,472.7 160.8,471.8 160.8,470.9 160.9,470.0 161.0,469.1 161.0,468.2 161.1,467.3 161.2,466.4 161.2,465.5 161.3,464.6 161.4,463.7 161.4,462.8 161.5,462.0 161.6,461.1 161.7,460.2 161.7,459.3 161.8,458.4 161.9,457.5 162.0,456.6 162.1,455.7 162.2,454.8 162.3,453.9 162.4,453.0 162.6,452.1 163.0,451.2 163.0,451.2 163.5,452.1 163.8,453.0 163.9,453.9 164.1,454.8 164.3,455.7 164.4,456.6 164.5,457.5 164.7,458.4 164.8,459.3 164.9,460.2 165.0,461.1 165.2,462.0 165.3,462.8 165.4,463.7 165.5,464.6 165.6,465.5 165.8,466.4 165.9,467.3 166.0,468.2 166.2,469.1 166.3,470.0 166.4,470.9 166.6,471.8 166.7,472.7 166.8,473.6 167.0,474.5 167.1,475.4 167.3,476.3 167.4,477.2 167.6,478.1 167.7,479.0 167.9,479.9 168.1,480.8 168.3,481.7 168.4,482.6 168.6,483.5 168.8,484.4 169.1,485.2 169.3,486.1 169.5,487.0 169.8,487.9 170.1,488.8 170.4,489.7 170.7,490.6 171.1,491.5 171.5,492.4 172.1,493.3 172.8,494.2 173.8,495.1 174.8,495.6 174.9,495.6 175.1,495.6 175.3,495.7 175.5,495.7 175.7,495.8 175.9,495.8 176.3,495.9 176.7,495.9 177.5,496.0 182.0,496.0 190.0,496.4 191.4,496.7 192.9,496.4 194.3,496.8 195.7,496.8 197.1,496.7 198.6,496.8 200.0,496.6 201.4,496.9 202.9,496.6 204.3,496.9 205.7,496.4 207.1,496.7 208.6,496.8 210.0,496.9 211.5,496.6 213.0,497.0 214.5,497.3 216.0,497.4 217.5,497.2 219.0,497.9 220.5,497.6 222.1,497.5 223.7,497.1 225.2,497.1 226.8,496.9 228.4,496.6 230.0,496.4 231.4,496.4 232.9,496.9 234.3,496.7 235.7,496.8 237.1,496.9 238.6,497.1 240.0,496.8 241.4,496.4 242.9,496.9 244.3,497.0 245.7,496.6 247.1,496.7 248.6,496.4 250.0,496.8 251.4,496.2 252.9,495.9 254.4,495.3 255.8,495.2 257.4,495.4 258.9,496.2 260.4,496.3 262.0,496.6 263.4,496.6 264.9,496.9 266.3,496.6 267.8,496.9 269.2,496.6 270.7,496.7 272.1,496.1 273.6,496.5 275.0,496.4 276.4,496.6 277.9,496.0 279.3,496.7 280.8,496.1 282.2,496.3 283.7,496.1 285.1,496.3 286.6,496.4 288.0,496.3"/>
<rect x="25.4" y="446.4" width="268.0" height="77.6" fill="none" stroke="#5a5a5a" stroke-width="1.10"/>
<line x1="24.2" y1="524.0" x2="25.4" y2="524.0" stroke="#666" stroke-width="0.6"/>
<text x="24.0" y="525.6" font-family='"Liberation Serif", serif' font-size="4.7" font-weight="bold" fill="#333" text-anchor="end">0</text>
<line x1="24.2" y1="516.2" x2="25.4" y2="516.2" stroke="#666" stroke-width="0.6"/>
<text x="24.0" y="517.8" font-family='"Liberation Serif", serif' font-size="4.7" font-weight="bold" fill="#333" text-anchor="end">10</text>
<line x1="24.2" y1="508.5" x2="25.4" y2="508.5" stroke="#666" stroke-width="0.6"/>
<text x="24.0" y="510.1" font-family='"Liberation Serif", serif' font-size="4.7" font-weight="bold" fill="#333" text-anchor="end">20</text>
<line x1="24.2" y1="500.7" x2="25.4" y2="500.7" stroke="#666" stroke-width="0.6"/>
<text x="24.0" y="502.3" font-family='"Liberation Serif", serif' font-size="4.7" font-weight="bold" fill="#333" text-anchor="end">30</text>
<line x1="24.2" y1="493.0" x2="25.4" y2="493.0" stroke="#666" stroke-width="0.6"/>
<text x="24.0" y="494.6" font-family='"Liberation Serif", serif' font-size="4.7" font-weight="bold" fill="#333" text-anchor="end">40</text>
<line x1="24.2" y1="485.2" x2="25.4" y2="485.2" stroke="#666" stroke-width="0.6"/>
<text x="24.0" y="486.8" font-family='"Liberation Serif", serif' font-size="4.7" font-weight="bold" fill="#333" text-anchor="end">50</text>
<line x1="24.2" y1="477.4" x2="25.4" y2="477.4" stroke="#666" stroke-width="0.6"/>
<text x="24.0" y="479.0" font-family='"Liberation Serif", serif' font-size="4.7" font-weight="bold" fill="#333" text-anchor="end">60</text>
<line x1="24.2" y1="469.7" x2="25.4" y2="469.7" stroke="#666" stroke-width="0.6"/>
<text x="24.0" y="471.3" font-family='"Liberation Serif", serif' font-size="4.7" font-weight="bold" fill="#333" text-anchor="end">70</text>
<line x1="24.2" y1="461.9" x2="25.4" y2="461.9" stroke="#666" stroke-width="0.6"/>
<text x="24.0" y="463.5" font-family='"Liberation Serif", serif' font-size="4.7" font-weight="bold" fill="#333" text-anchor="end">80</text>
<line x1="24.2" y1="454.2" x2="25.4" y2="454.2" stroke="#666" stroke-width="0.6"/>
<text x="24.0" y="455.8" font-family='"Liberation Serif", serif' font-size="4.7" font-weight="bold" fill="#333" text-anchor="end">90</text>
<line x1="24.2" y1="446.4" x2="25.4" y2="446.4" stroke="#666" stroke-width="0.6"/>
<text x="24.0" y="448.0" font-family='"Liberation Serif", serif' font-size="4.7" font-weight="bold" fill="#333" text-anchor="end">100</text>
<text transform="translate(14.4,485.2) rotate(-90)" font-family='"Liberation Serif", serif' font-size="5.0" font-weight="bold" fill="#333" text-anchor="middle">%</text>
<line x1="25.7" y1="524.0" x2="25.7" y2="525.2" stroke="#666" stroke-width="0.6"/>
<text x="25.7" y="530.0" font-family='"Liberation Serif", serif' font-size="4.7" font-weight="bold" fill="#333" text-anchor="middle">0</text>
<line x1="42.1" y1="524.0" x2="42.1" y2="525.2" stroke="#666" stroke-width="0.6"/>
<text x="42.1" y="530.0" font-family='"Liberation Serif", serif' font-size="4.7" font-weight="bold" fill="#333" text-anchor="middle">0.5</text>
<line x1="58.5" y1="524.0" x2="58.5" y2="525.2" stroke="#666" stroke-width="0.6"/>
<text x="58.5" y="530.0" font-family='"Liberation Serif", serif' font-size="4.7" font-weight="bold" fill="#333" text-anchor="middle">1</text>
<line x1="75.0" y1="524.0" x2="75.0" y2="525.2" stroke="#666" stroke-width="0.6"/>
<text x="75.0" y="530.0" font-family='"Liberation Serif", serif' font-size="4.7" font-weight="bold" fill="#333" text-anchor="middle">1.5</text>
<line x1="91.4" y1="524.0" x2="91.4" y2="525.2" stroke="#666" stroke-width="0.6"/>
<text x="91.4" y="530.0" font-family='"Liberation Serif", serif' font-size="4.7" font-weight="bold" fill="#333" text-anchor="middle">2</text>
<line x1="107.8" y1="524.0" x2="107.8" y2="525.2" stroke="#666" stroke-width="0.6"/>
<text x="107.8" y="530.0" font-family='"Liberation Serif", serif' font-size="4.7" font-weight="bold" fill="#333" text-anchor="middle">2.5</text>
<line x1="124.2" y1="524.0" x2="124.2" y2="525.2" stroke="#666" stroke-width="0.6"/>
<text x="124.2" y="530.0" font-family='"Liberation Serif", serif' font-size="4.7" font-weight="bold" fill="#333" text-anchor="middle">3</text>
<line x1="140.6" y1="524.0" x2="140.6" y2="525.2" stroke="#666" stroke-width="0.6"/>
<text x="140.6" y="530.0" font-family='"Liberation Serif", serif' font-size="4.7" font-weight="bold" fill="#333" text-anchor="middle">3.5</text>
<line x1="157.0" y1="524.0" x2="157.0" y2="525.2" stroke="#666" stroke-width="0.6"/>
<text x="157.0" y="530.0" font-family='"Liberation Serif", serif' font-size="4.7" font-weight="bold" fill="#333" text-anchor="middle">4</text>
<line x1="173.5" y1="524.0" x2="173.5" y2="525.2" stroke="#666" stroke-width="0.6"/>
<text x="173.5" y="530.0" font-family='"Liberation Serif", serif' font-size="4.7" font-weight="bold" fill="#333" text-anchor="middle">4.5</text>
<line x1="189.9" y1="524.0" x2="189.9" y2="525.2" stroke="#666" stroke-width="0.6"/>
<text x="189.9" y="530.0" font-family='"Liberation Serif", serif' font-size="4.7" font-weight="bold" fill="#333" text-anchor="middle">5</text>
<line x1="206.3" y1="524.0" x2="206.3" y2="525.2" stroke="#666" stroke-width="0.6"/>
<text x="206.3" y="530.0" font-family='"Liberation Serif", serif' font-size="4.7" font-weight="bold" fill="#333" text-anchor="middle">5.5</text>
<line x1="222.7" y1="524.0" x2="222.7" y2="525.2" stroke="#666" stroke-width="0.6"/>
<text x="222.7" y="530.0" font-family='"Liberation Serif", serif' font-size="4.7" font-weight="bold" fill="#333" text-anchor="middle">6</text>
<line x1="239.1" y1="524.0" x2="239.1" y2="525.2" stroke="#666" stroke-width="0.6"/>
<text x="239.1" y="530.0" font-family='"Liberation Serif", serif' font-size="4.7" font-weight="bold" fill="#333" text-anchor="middle">6.5</text>
<line x1="255.6" y1="524.0" x2="255.6" y2="525.2" stroke="#666" stroke-width="0.6"/>
<text x="255.6" y="530.0" font-family='"Liberation Serif", serif' font-size="4.7" font-weight="bold" fill="#333" text-anchor="middle">7</text>
<line x1="272.0" y1="524.0" x2="272.0" y2="525.2" stroke="#666" stroke-width="0.6"/>
<text x="272.0" y="530.0" font-family='"Liberation Serif", serif' font-size="4.7" font-weight="bold" fill="#333" text-anchor="middle">7.5</text>
<line x1="288.4" y1="524.0" x2="288.4" y2="525.2" stroke="#666" stroke-width="0.6"/>
<text x="288.4" y="530.0" font-family='"Liberation Serif", serif' font-size="4.7" font-weight="bold" fill="#333" text-anchor="middle">8</text>
<text x="147.6" y="546.4" font-family='"Liberation Sans", sans-serif' font-size="6.2" fill="#111" stroke="#555" stroke-width="0.12" textLength="21.2" lengthAdjust="spacingAndGlyphs">time[min]</text>
<path d="M161.2,450.8 l2.6,0 l-1.3,2.3 z" fill="#222"/>
<text transform="translate(165.7,455.0) rotate(-90)" font-family='"Liberation Serif", serif' font-size="3.3" fill="#5a6fb5" textLength="6.8" lengthAdjust="spacingAndGlyphs">4.228</text>
<path d="M141.1,86.2 l2.7,0 l-1.35,2.3 z" fill="#222"/>
<text transform="translate(143.7,85.0) rotate(-90)" font-family='"Liberation Serif", serif' font-size="3.6" fill="#7080b0" textLength="6.7" lengthAdjust="spacingAndGlyphs">3.568</text>
<line x1="435.5" y1="121.2" x2="670.8" y2="121.2" stroke="#d9d9d9" stroke-width="0.8"/>
<text x="430.2" y="124.2" font-family='"Liberation Serif", serif' font-size="8.6" fill="#5473a6" text-anchor="end">0</text>
<line x1="435.5" y1="103.1" x2="670.8" y2="103.1" stroke="#d9d9d9" stroke-width="0.8"/>
<text x="430.2" y="106.1" font-family='"Liberation Serif", serif' font-size="8.6" fill="#5473a6" text-anchor="end">50</text>
<line x1="435.5" y1="85.0" x2="670.8" y2="85.0" stroke="#d9d9d9" stroke-width="0.8"/>
<text x="430.2" y="88.0" font-family='"Liberation Serif", serif' font-size="8.6" fill="#5473a6" text-anchor="end">100</text>
<line x1="435.5" y1="67.0" x2="670.8" y2="67.0" stroke="#d9d9d9" stroke-width="0.8"/>
<text x="430.2" y="70.0" font-family='"Liberation Serif", serif' font-size="8.6" fill="#5473a6" text-anchor="end">150</text>
<line x1="435.5" y1="48.9" x2="670.8" y2="48.9" stroke="#d9d9d9" stroke-width="0.8"/>
<text x="430.2" y="51.9" font-family='"Liberation Serif", serif' font-size="8.6" fill="#5473a6" text-anchor="end">200</text>
<line x1="435.5" y1="30.8" x2="670.8" y2="30.8" stroke="#d9d9d9" stroke-width="0.8"/>
<text x="430.2" y="33.8" font-family='"Liberation Serif", serif' font-size="8.6" fill="#5473a6" text-anchor="end">250</text>
<line x1="435.5" y1="30.8" x2="435.5" y2="121.2" stroke="#d9d9d9" stroke-width="0.8"/>
<text x="435.5" y="137.8" font-family='"Liberation Serif", serif' font-size="10.6" font-weight="bold" fill="#34589a" text-anchor="middle">0</text>
<line x1="494.4" y1="30.8" x2="494.4" y2="121.2" stroke="#d9d9d9" stroke-width="0.8"/>
<text x="494.4" y="137.8" font-family='"Liberation Serif", serif' font-size="10.6" font-weight="bold" fill="#34589a" text-anchor="middle">5</text>
<line x1="553.3" y1="30.8" x2="553.3" y2="121.2" stroke="#d9d9d9" stroke-width="0.8"/>
<text x="553.3" y="137.8" font-family='"Liberation Serif", serif' font-size="10.6" font-weight="bold" fill="#34589a" text-anchor="middle">10</text>
<line x1="612.2" y1="30.8" x2="612.2" y2="121.2" stroke="#d9d9d9" stroke-width="0.8"/>
<text x="612.2" y="137.8" font-family='"Liberation Serif", serif' font-size="10.6" font-weight="bold" fill="#34589a" text-anchor="middle">15</text>
<line x1="671.1" y1="30.8" x2="671.1" y2="121.2" stroke="#d9d9d9" stroke-width="0.8"/>
<text x="671.1" y="137.8" font-family='"Liberation Serif", serif' font-size="10.6" font-weight="bold" fill="#34589a" text-anchor="middle">20</text>
<line x1="447.3" y1="115.7" x2="624.0" y2="46.1" stroke="#2f5597" stroke-width="0.9" stroke-dasharray="1.2,1.2"/>
<circle cx="447.3" cy="116.8" r="2.5" fill="#3d68b5"/>
<circle cx="459.1" cy="111.3" r="2.5" fill="#3d68b5"/>
<circle cx="482.5" cy="101.4" r="2.5" fill="#3d68b5"/>
<circle cx="529.8" cy="81.5" r="2.5" fill="#3d68b5"/>
<circle cx="624.1" cy="46.9" r="2.5" fill="#3d68b5"/>
<text x="541.0" y="44.6" font-family='"Liberation Serif", serif' font-size="9.4" fill="#595959" textLength="76.3" lengthAdjust="spacingAndGlyphs">y = 12.822x + 2.4008</text>
<text x="558.5" y="54.8" font-family='"Liberation Serif", serif' font-size="9.4" fill="#595959" textLength="41.3" lengthAdjust="spacingAndGlyphs">R<tspan font-size="5.5" dy="-3.5">2</tspan><tspan dy="3.5"> = 0.9985</tspan></text>
<clipPath id="cpc"><rect x="438.5" y="196.5" width="215.9" height="173.5"/></clipPath>
<polyline clip-path="url(#cpc)" fill="none" stroke="#2e6db4" stroke-width="1.25" stroke-linejoin="round" points="438.6,210.9 439.2,211.1 439.8,211.0 440.4,211.2 441.0,211.2 441.6,210.8 442.2,210.7 442.9,211.3 443.5,210.9 444.1,210.9 444.7,211.4 445.3,211.0 445.9,211.3 446.5,211.0 447.1,211.1 447.7,210.8 448.3,211.1 448.9,211.3 449.5,211.0 450.1,211.2 450.7,211.1 451.4,210.7 452.0,211.2 452.6,211.1 453.2,210.9 453.8,210.7 454.4,211.3 455.0,211.0 455.6,211.1 456.2,211.2 456.8,211.1 457.4,211.2 458.0,210.9 458.6,211.1 459.2,210.9 459.8,211.2 460.4,211.2 461.0,210.6 461.6,210.6 462.2,210.7 462.9,211.2 463.5,210.8 464.1,210.9 464.7,210.7 465.3,210.8 465.9,210.7 466.5,210.7 467.1,210.8 467.7,210.8 468.3,211.0 468.9,210.9 469.5,211.0 470.1,210.9 470.7,210.8 471.3,210.4 472.0,209.8 472.6,210.1 473.2,209.9 473.8,209.6 474.5,209.2 475.1,209.1 475.7,208.5 476.3,209.0 477.0,208.9 477.6,208.8 478.3,208.7 478.9,209.3 479.6,209.5 480.2,209.0 480.9,209.6 481.6,209.4 482.2,209.3 482.9,209.5 483.5,210.0 484.2,210.2 484.9,209.7 485.5,210.2 486.2,210.0 486.8,210.5 487.4,210.2 488.0,210.6 488.6,210.7 489.2,210.3 489.8,210.7 490.4,210.2 491.0,210.0 491.6,210.4 492.2,210.0 492.8,210.1 493.4,210.3 494.0,210.4 494.6,210.1 495.2,210.0 495.8,210.6 496.4,210.2 497.0,210.7 497.6,210.7 498.2,210.3 498.8,210.4 499.4,210.4 500.0,210.5 500.6,210.5 501.2,210.4 501.8,210.5 502.4,210.7 503.1,210.4 503.7,210.3 504.3,210.5 504.9,210.2 505.5,210.2 506.1,210.7 506.7,210.4 507.3,210.4 507.9,210.0 508.5,210.3 509.1,210.4 509.8,210.0 510.4,210.4 511.0,210.4 511.6,210.0 512.2,210.4 512.8,210.3 513.4,210.5 514.0,210.2 514.6,210.5 515.2,210.5 515.9,210.0 516.5,210.0 517.1,210.4 517.7,210.6 518.3,210.1 518.9,210.3 519.6,210.5 520.2,210.4 520.9,210.5 521.5,210.6 522.1,210.7 522.8,210.9 523.4,210.8 524.1,210.9 524.7,211.3 525.5,210.7 526.2,210.9 527.0,210.8 527.5,210.9 527.9,210.2 528.2,210.8 528.6,209.6 528.9,209.3 529.3,210.1 529.6,209.6 530.0,212.0 530.3,212.8 530.7,207.8 531.0,212.4 531.4,212.4 531.7,209.3 532.1,210.7 532.4,210.1 532.8,209.7 533.1,211.5 533.5,212.6 533.8,212.0 534.2,211.4 534.5,211.2 534.9,210.8 535.2,210.2 535.6,211.0 535.9,211.4 536.3,211.7 536.6,211.3 537.0,211.2 537.3,209.9 537.7,210.1 538.0,210.4 538.4,209.9 538.7,209.8 539.1,211.3 539.4,211.1 539.8,209.8 540.1,210.5 540.5,210.2 540.8,210.2 541.2,211.0 541.5,209.4 541.9,212.3 542.2,209.7 542.6,211.8 542.9,207.9 543.3,212.6 543.6,213.3 544.0,210.6 544.3,211.0 544.7,209.4 545.0,211.7 545.4,212.0 545.7,212.5 546.1,212.0 546.4,210.6 546.8,209.5 547.1,209.1 547.5,212.6 547.8,207.5 548.2,208.3 548.5,212.0 548.9,209.0 549.2,211.0 549.6,210.5 549.9,210.7 550.3,211.1 550.6,209.9 551.0,209.9 551.2,210.5 551.8,210.7 552.5,210.5 553.1,210.5 553.7,210.8 554.3,210.5 555.0,210.6 555.6,210.6 556.2,210.9 556.9,210.8 557.5,210.8 558.1,211.1 558.7,211.4 559.4,211.0 560.0,211.3 560.6,211.2 561.2,211.5 561.8,211.4 562.4,211.2 563.0,211.2 563.6,211.2 564.2,211.5 564.8,211.5 565.4,211.4 566.1,211.5 566.7,211.6 567.3,211.9 567.9,211.5 568.5,212.1 569.1,211.8 569.7,211.9 570.3,211.9 570.9,212.2 571.5,212.2 572.1,212.0 572.7,212.0 573.3,212.2 573.9,212.3 574.5,212.0 575.1,212.2 575.8,212.4 576.4,212.1 577.0,212.0 577.6,212.0 578.2,212.3 578.8,212.3 579.4,212.5 580.0,212.4 580.6,212.1 581.2,212.1 581.8,212.1 582.4,212.1 583.0,212.4 583.6,212.6 584.3,212.6 584.9,212.3 585.5,212.6 586.1,212.3 586.7,212.4 587.3,212.6 588.0,212.0 588.7,211.8 589.4,212.0 590.1,211.4 590.8,211.2 591.4,211.4 592.0,211.4 592.6,211.0 593.2,211.3 593.8,211.3 594.5,211.4 595.1,211.2 595.7,211.5 596.3,211.7 596.9,211.4 597.5,211.5 598.1,211.3 598.7,211.4 599.3,211.6 600.0,211.3 600.6,211.8 601.2,211.8 601.8,211.3 602.4,211.8 603.0,211.5 603.6,212.0 604.2,212.2 604.8,212.1 605.4,212.5 606.0,212.7 606.7,213.6 607.4,214.2 608.2,216.3 609.0,218.3 610.1,223.1 611.0,229.0 611.8,234.2 612.8,236.0 613.6,241.9 614.5,247.7 615.1,252.9 615.8,258.0 616.5,262.7 617.1,267.8 618.2,258.1 619.2,247.4 620.0,238.2 620.6,232.8 621.4,225.8 622.3,220.7 623.0,219.4 623.8,218.7 624.5,218.1 625.1,217.8 625.7,217.6 626.4,217.4 627.0,217.1 627.6,216.8 628.3,216.5 629.0,216.3 629.6,216.5 630.3,216.3 631.0,216.0 631.6,216.1 632.2,215.8 632.8,215.7 633.4,215.7 634.0,216.0 634.6,215.4 635.3,215.8 636.0,215.7 636.6,216.2 637.3,216.0 638.0,216.1 638.6,216.3 639.2,216.5 639.8,216.7 640.4,216.6 641.0,217.0 641.6,216.7 642.3,218.3 643.0,219.8 643.6,223.0 644.2,226.7 645.2,229.1 646.0,232.5 646.6,240.0 647.2,247.5 648.0,240.1 648.6,239.0 649.3,252.1 650.0,263.4 650.8,249.8 651.5,239.9 652.1,229.8 653.0,224.0 653.9,222.2"/>
<polyline clip-path="url(#cpc)" fill="none" stroke="#d93f3c" stroke-width="1.2" stroke-linejoin="round" points="438.6,279.7 439.2,279.4 439.8,279.4 440.5,279.9 441.1,279.3 441.7,279.9 442.3,280.0 442.9,280.1 443.6,279.7 444.2,279.8 444.8,279.9 445.4,279.9 446.0,280.2 446.7,280.0 447.3,279.7 447.9,280.2 448.5,279.9 449.1,280.0 449.8,280.1 450.4,279.6 451.0,280.2 451.6,280.1 452.2,280.0 452.9,280.1 453.5,280.0 454.1,279.9 454.7,280.2 455.4,279.9 456.0,280.4 456.7,280.6 457.3,280.6 457.9,280.8 458.6,281.2 459.2,281.3 459.9,280.8 460.5,281.4 461.1,281.4 461.8,281.0 462.4,281.4 463.1,281.4 463.7,281.4 464.3,281.8 464.9,282.2 465.5,281.7 466.2,282.2 466.8,282.2 467.4,281.8 468.0,282.4 468.6,282.3 469.2,282.6 469.9,282.5 470.5,282.6 471.1,282.3 471.7,282.7 472.3,282.7 472.9,282.6 473.6,282.1 474.2,282.3 474.8,282.0 475.4,281.6 476.1,281.4 476.7,281.4 477.3,281.4 477.9,281.2 478.6,281.4 479.2,281.5 479.8,281.2 480.4,281.1 481.1,281.2 481.7,280.9 482.4,281.0 483.0,281.2 483.6,280.9 484.3,280.7 484.9,281.2 485.5,281.0 486.2,280.7 486.8,280.7 487.4,280.8 488.1,280.8 488.7,280.5 489.4,280.2 490.0,280.4 490.6,280.8 491.2,280.2 491.8,280.5 492.4,280.2 493.0,280.2 493.6,280.1 494.2,280.3 494.8,280.1 495.4,279.9 496.0,280.0 496.6,280.0 497.2,280.2 497.8,279.8 498.4,279.8 499.0,280.1 499.6,280.0 500.2,280.1 500.8,279.5 501.4,279.7 502.0,279.7 502.6,279.3 503.2,280.0 503.8,279.3 504.4,279.1 505.0,279.3 505.6,279.0 506.2,279.3 506.8,279.0 507.4,278.8 508.0,278.6 508.6,279.1 509.3,278.7 509.9,279.0 510.6,278.6 511.2,278.9 511.9,278.3 512.5,278.2 513.2,278.2 513.8,278.5 514.5,278.3 515.1,278.0 515.8,278.1 516.5,278.9 517.3,279.5 518.0,279.6 518.7,279.1 519.4,279.2 520.1,279.2 520.8,279.3 521.5,279.2 522.1,279.1 522.8,279.4 523.4,279.5 524.0,279.0 524.5,278.2 525.0,279.3 525.5,278.6 526.0,278.7 526.5,278.1 527.0,277.9 527.5,277.5 528.0,279.6 528.5,279.1 529.0,278.7 529.5,278.4 530.0,278.5 530.5,278.1 531.0,279.8 531.5,277.3 532.0,277.5 532.5,279.1 533.0,278.7 533.5,279.4 534.0,276.7 534.5,280.2 535.0,276.7 535.5,277.6 536.0,278.7 536.5,277.9 537.0,278.7 537.5,277.7 538.0,280.0 538.5,277.0 539.0,277.6 539.5,278.5 540.0,279.6 540.5,277.4 541.0,276.7 541.5,280.0 542.0,277.9 542.5,278.2 543.0,277.5 543.5,277.1 544.0,276.9 544.5,277.7 545.0,279.6 545.5,279.3 546.0,279.1 546.5,280.3 547.0,277.1 547.5,281.6 548.0,280.0 548.5,279.2 549.0,278.6 549.5,278.8 550.0,277.6 550.6,278.1 551.2,277.8 551.8,277.9 552.4,277.8 553.0,278.1 553.6,278.1 554.2,277.8 554.8,277.7 555.4,277.8 556.0,277.9 556.7,277.7 557.3,277.8 558.0,278.2 558.7,278.1 559.4,278.3 560.0,278.3 560.7,278.3 561.5,284.2 562.4,290.4 563.1,287.1 563.9,283.8 564.6,280.5 565.5,280.8 566.4,280.9 567.1,284.6 567.9,287.5 568.6,291.0 569.3,288.1 570.1,284.8 570.8,281.3 571.5,281.4 572.3,281.9 573.0,281.5 573.6,282.8 574.3,284.4 575.0,287.4 575.8,290.0 576.5,292.9 577.2,289.9 577.9,287.3 578.6,284.0 579.5,283.5 580.4,282.5 581.3,286.5 582.1,284.1 582.8,287.5 583.5,290.7 584.4,289.9 585.2,288.7 585.8,287.3 586.4,286.4 587.1,284.9 587.7,283.8 588.3,282.5 589.0,286.6 589.6,290.0 590.2,288.5 590.8,287.0 591.5,285.9 592.1,284.6 592.7,283.2 593.4,285.4 594.0,287.3 594.6,286.0 595.3,285.0 596.1,284.6 597.0,283.8 597.6,285.5 598.2,287.7 598.9,289.4 599.5,291.1 600.1,293.0 600.8,290.5 601.6,288.6 602.3,286.5 602.9,285.7 603.6,284.6 604.2,284.0 604.9,283.4 605.6,283.8 606.4,284.0 607.1,284.3 607.8,286.0 608.4,287.3 609.0,288.9 609.6,290.8 610.2,292.6 610.9,294.5 611.7,296.6 612.4,298.8 613.1,301.9 613.8,305.2 614.5,308.0 615.4,313.2 616.2,317.6 617.4,311.9 618.5,305.5 619.2,300.2 619.9,295.3 620.6,290.0 621.2,288.3 621.9,286.3 622.5,284.2 623.3,283.7 624.1,282.8 624.9,283.1 625.7,283.2 626.5,283.7 627.2,284.3 627.9,284.2 628.6,285.1 629.3,285.3 630.0,285.7 630.6,286.3 631.3,286.7 632.0,286.8 632.6,286.8 633.3,287.6 633.9,287.5 634.6,287.9 635.3,288.6 635.9,288.5 636.6,288.9 637.2,289.7 637.9,290.0 638.6,289.9 639.2,290.3 639.9,290.5 640.6,291.1 641.3,291.9 642.0,293.1 642.7,293.2 643.4,294.0 644.0,294.9 644.7,295.7 645.4,296.8 646.0,297.9 646.6,301.8 647.2,305.6 647.9,304.0 648.6,301.7 649.3,309.3 650.0,317.2 650.7,311.4 651.4,306.3 652.1,301.2 653.0,299.7 653.9,298.5"/>
<polyline clip-path="url(#cpc)" fill="none" stroke="#3a3a3a" stroke-width="1.2" stroke-linejoin="round" points="438.6,331.9 439.5,332.7 440.4,334.1 441.0,334.6 441.6,333.8 442.3,334.4 442.9,333.7 443.5,334.2 444.1,333.9 444.8,333.8 445.4,333.3 446.0,333.1 446.6,333.6 447.3,333.1 447.9,333.0 448.6,333.4 449.2,333.4 449.9,332.7 450.6,333.3 451.2,332.9 451.9,332.7 452.5,332.4 453.1,332.9 453.8,333.7 454.4,333.5 455.1,333.7 455.7,334.1 456.4,334.4 457.0,334.9 457.6,335.6 458.3,335.3 458.9,335.7 459.6,336.6 460.2,337.0 460.8,337.3 461.5,337.0 462.1,337.4 462.7,338.0 463.3,337.7 463.9,338.0 464.6,337.9 465.2,337.7 465.8,338.1 466.4,338.6 467.0,338.7 467.7,338.6 468.3,338.6 469.0,338.8 469.7,338.8 470.4,339.0 471.0,339.3 471.7,338.9 472.3,339.0 473.0,339.1 473.6,338.8 474.2,338.1 474.9,338.6 475.5,338.3 476.3,339.9 477.0,337.3 477.6,337.1 478.3,336.9 478.9,337.5 479.5,336.9 480.2,337.1 480.8,336.4 481.4,336.2 482.1,336.7 482.7,336.5 483.3,336.6 484.0,336.2 484.6,335.9 485.2,335.9 485.8,335.1 486.4,335.2 487.1,334.9 487.7,334.4 488.3,334.5 488.9,334.0 489.5,333.9 490.1,333.6 490.8,333.3 491.4,333.1 492.0,333.0 492.6,333.1 493.3,333.0 494.0,332.8 494.6,332.7 495.3,332.2 496.0,332.6 496.6,332.0 497.3,331.8 498.0,332.0 498.6,332.2 499.2,331.9 499.8,332.2 500.4,332.0 501.0,332.6 501.6,332.2 502.2,332.2 502.8,332.3 503.5,332.1 504.2,331.6 505.0,330.7 505.7,330.2 506.3,330.2 507.0,329.7 507.6,329.9 508.2,330.2 508.9,330.0 509.5,329.4 510.1,329.9 510.8,329.5 511.4,329.9 512.0,329.3 512.7,329.1 513.3,329.3 513.9,329.5 514.6,329.0 515.2,329.3 515.8,329.3 516.5,329.1 517.1,329.1 517.7,329.4 518.4,329.4 519.0,329.5 519.6,329.8 520.3,330.1 520.9,330.0 521.5,329.7 522.2,329.9 522.8,330.1 523.4,329.8 524.1,329.0 524.7,328.5 525.4,328.7 526.1,328.6 526.8,328.4 527.4,328.8 528.1,329.1 528.8,328.8 529.5,328.8 530.0,328.9 530.5,329.1 531.0,329.1 531.5,328.1 532.0,327.8 532.5,327.8 533.0,328.3 533.5,327.7 534.0,329.3 534.5,329.7 535.0,329.6 535.5,326.9 536.0,328.4 536.5,329.0 537.0,329.6 537.5,326.6 538.0,326.5 538.5,329.0 539.0,328.4 539.5,328.7 540.0,328.3 540.5,328.9 541.0,327.8 541.5,329.7 542.0,329.8 542.5,329.1 543.0,328.3 543.5,331.3 544.0,331.7 544.5,328.1 545.0,328.2 545.5,328.5 546.0,328.4 546.5,328.1 547.0,328.1 547.5,327.3 548.0,329.4 548.5,325.2 549.0,326.2 549.5,329.0 550.0,328.8 550.5,328.5 551.0,328.0 551.2,327.6 551.9,327.7 552.6,327.3 553.3,327.5 553.9,327.2 554.6,327.8 555.3,327.7 556.0,327.2 556.6,327.8 557.3,328.0 557.9,327.4 558.5,328.1 559.2,327.6 559.8,327.3 560.5,327.9 561.1,327.5 561.8,340.0 562.4,351.9 563.1,344.7 563.9,338.4 564.6,332.0 565.3,331.6 566.1,331.6 566.8,332.0 567.5,337.7 568.3,343.9 569.0,350.1 569.9,341.8 570.8,332.7 571.6,332.6 572.5,333.3 573.1,336.3 573.8,339.3 574.7,339.0 575.6,347.1 576.5,354.8 577.4,348.1 578.2,340.7 579.1,337.8 580.0,334.5 580.6,336.6 581.3,339.7 582.1,338.8 582.8,344.2 583.5,350.0 584.4,347.9 585.2,345.3 585.8,343.7 586.4,341.5 587.1,339.2 587.7,336.8 588.3,335.2 589.1,342.4 590.0,350.2 590.6,347.1 591.2,344.8 591.9,342.1 592.5,339.7 593.1,337.4 593.8,339.8 594.4,342.6 595.0,344.7 595.6,346.2 596.2,348.3 596.9,342.9 597.5,337.8 598.1,340.2 598.8,342.5 599.6,348.7 600.5,354.5 601.4,349.1 602.3,343.5 602.9,342.2 603.6,340.7 604.2,339.8 604.9,337.4 605.5,338.1 606.1,337.4 606.7,337.2 607.5,340.8 608.4,345.3 609.0,341.8 609.7,339.6 610.4,337.8 611.2,335.7 611.9,334.0 612.7,333.6 613.5,332.3 614.4,331.6 615.3,331.1 616.1,331.4 617.0,333.2 617.9,334.0 618.8,334.2 619.5,333.6 620.1,333.2 620.8,331.7 621.5,331.3 622.2,331.2 622.8,332.2 623.5,332.3 624.3,332.3 625.0,332.0 625.8,332.3 626.5,334.5 627.1,336.7 627.8,339.3 628.5,341.4 629.2,341.3 629.8,340.3 630.5,340.0 631.3,341.2 632.1,342.1 632.9,342.8 633.5,342.6 634.2,342.8 634.9,342.0 635.5,342.3 636.1,343.0 636.8,344.4 637.5,345.3 638.1,346.1 638.9,344.5 639.7,342.8 640.5,342.1 641.2,342.1 642.0,342.2 642.7,341.3 643.4,341.2 644.1,342.3 644.8,342.5 645.5,342.6 646.2,343.2 646.9,342.9 647.5,345.7 648.2,348.2 648.9,350.1 649.5,351.7 650.1,350.6 650.8,350.1 651.5,353.6 652.1,356.0 653.0,354.6 653.9,353.8"/>
<rect x="438.5" y="196.5" width="215.9" height="173.5" fill="none" stroke="#555" stroke-width="0.9"/>
<line x1="438.5" y1="370.0" x2="438.5" y2="372.0" stroke="#555" stroke-width="0.8"/>
<text x="438.5" y="383.0" font-family='"Liberation Sans", sans-serif' font-size="9.4" fill="#333" text-anchor="middle">3500</text>
<line x1="474.4" y1="370.0" x2="474.4" y2="372.0" stroke="#555" stroke-width="0.8"/>
<text x="474.4" y="383.0" font-family='"Liberation Sans", sans-serif' font-size="9.4" fill="#333" text-anchor="middle">3000</text>
<line x1="510.4" y1="370.0" x2="510.4" y2="372.0" stroke="#555" stroke-width="0.8"/>
<text x="510.4" y="383.0" font-family='"Liberation Sans", sans-serif' font-size="9.4" fill="#333" text-anchor="middle">2500</text>
<line x1="546.4" y1="370.0" x2="546.4" y2="372.0" stroke="#555" stroke-width="0.8"/>
<text x="546.4" y="383.0" font-family='"Liberation Sans", sans-serif' font-size="9.4" fill="#333" text-anchor="middle">2000</text>
<line x1="582.3" y1="370.0" x2="582.3" y2="372.0" stroke="#555" stroke-width="0.8"/>
<text x="582.3" y="383.0" font-family='"Liberation Sans", sans-serif' font-size="9.4" fill="#333" text-anchor="middle">1500</text>
<line x1="618.2" y1="370.0" x2="618.2" y2="372.0" stroke="#555" stroke-width="0.8"/>
<text x="618.2" y="383.0" font-family='"Liberation Sans", sans-serif' font-size="9.4" fill="#333" text-anchor="middle">1000</text>
<line x1="654.2" y1="370.0" x2="654.2" y2="372.0" stroke="#555" stroke-width="0.8"/>
<text x="654.2" y="383.0" font-family='"Liberation Sans", sans-serif' font-size="9.4" fill="#333" text-anchor="middle">500</text>
<text x="498.8" y="396.9" font-family='"Liberation Sans", sans-serif' font-size="11.6" fill="#222">Wavelength (cm<tspan font-size="7" dy="-4.5">-1</tspan><tspan dy="4.5">)</tspan></text>
<text transform="translate(423.0,289.0) rotate(-90)" font-family='"Liberation Sans", sans-serif' font-size="11.6" fill="#222" text-anchor="middle">Transmittance (a.u.)</text>
<line x1="444.9" y1="296.2" x2="464.2" y2="296.2" stroke="#4a84c8" stroke-width="1.1"/>
<text x="466.8" y="299.2" font-family='"Liberation Sans", sans-serif' font-size="8.5" fill="#222">nHA</text>
<line x1="444.9" y1="306.0" x2="464.2" y2="306.0" stroke="#e06a6a" stroke-width="1.1"/>
<text x="466.8" y="309.0" font-family='"Liberation Sans", sans-serif' font-size="8.5" fill="#222">AMX+nHA</text>
<line x1="444.9" y1="316.9" x2="464.2" y2="316.9" stroke="#555" stroke-width="1.1"/>
<text x="466.8" y="319.9" font-family='"Liberation Sans", sans-serif' font-size="8.5" fill="#222">AMX</text>
<text x="624.1" y="272.8" font-family='"Liberation Sans", sans-serif' font-size="6.1" fill="#111" stroke="#333" stroke-width="0.15">1022</text>
<line x1="617.8" y1="268.5" x2="623.0" y2="270.5" stroke="#333" stroke-width="0.6"/>
<circle cx="618.6" cy="268.8" r="0.75" fill="#222"/>
<text x="636.5" y="259.0" font-family='"Liberation Sans", sans-serif' font-size="6.1" fill="#111" stroke="#333" stroke-width="0.15">600</text>
<line x1="643.2" y1="254.0" x2="646.2" y2="250.0" stroke="#333" stroke-width="0.6"/>
<circle cx="643.7" cy="253.4" r="0.75" fill="#222"/>
<text x="643.2" y="275.6" font-family='"Liberation Sans", sans-serif' font-size="6.1" fill="#111" stroke="#333" stroke-width="0.15">560</text>
<line x1="650.0" y1="265.5" x2="650.0" y2="268.5" stroke="#333" stroke-width="0.6"/>
<circle cx="650.0" cy="265.9" r="0.75" fill="#222"/>
<text x="550.4" y="302.8" font-family='"Liberation Sans", sans-serif' font-size="6.1" fill="#111" stroke="#333" stroke-width="0.15">1770</text>
<line x1="561.4" y1="292.0" x2="557.5" y2="296.0" stroke="#333" stroke-width="0.6"/>
<circle cx="560.8" cy="292.6" r="0.75" fill="#222"/>
<text x="587.3" y="304.6" font-family='"Liberation Sans", sans-serif' font-size="6.1" fill="#111" stroke="#333" stroke-width="0.15">1245</text>
<line x1="599.6" y1="293.2" x2="594.5" y2="298.0" stroke="#333" stroke-width="0.6"/>
<circle cx="598.8" cy="293.9" r="0.75" fill="#222"/>
<text x="624.1" y="322.3" font-family='"Liberation Sans", sans-serif' font-size="6.1" fill="#111" stroke="#333" stroke-width="0.15">1022</text>
<line x1="617.4" y1="318.5" x2="623.0" y2="320.3" stroke="#333" stroke-width="0.6"/>
<circle cx="618.2" cy="318.8" r="0.75" fill="#222"/>
<text x="636.7" y="315.6" font-family='"Liberation Sans", sans-serif' font-size="6.1" fill="#111" stroke="#333" stroke-width="0.15">600</text>
<line x1="643.3" y1="303.5" x2="646.8" y2="299.5" stroke="#333" stroke-width="0.6"/>
<circle cx="643.8" cy="302.9" r="0.75" fill="#222"/>
<text x="643.2" y="329.6" font-family='"Liberation Sans", sans-serif' font-size="6.1" fill="#111" stroke="#333" stroke-width="0.15">560</text>
<line x1="650.0" y1="319.0" x2="650.0" y2="322.0" stroke="#333" stroke-width="0.6"/>
<circle cx="650.0" cy="319.4" r="0.75" fill="#222"/>
<text x="550.2" y="363.5" font-family='"Liberation Sans", sans-serif' font-size="6.1" fill="#111" stroke="#333" stroke-width="0.15">1770</text>
<line x1="561.6" y1="352.2" x2="558.5" y2="354.5" stroke="#333" stroke-width="0.6"/>
<circle cx="561.1" cy="352.5" r="0.75" fill="#222"/>
<text x="587.0" y="365.6" font-family='"Liberation Sans", sans-serif' font-size="6.1" fill="#111" stroke="#333" stroke-width="0.15">1245</text>
<line x1="599.8" y1="357.2" x2="596.0" y2="359.5" stroke="#333" stroke-width="0.6"/>
<circle cx="599.2" cy="357.5" r="0.75" fill="#222"/>
<line x1="447.5" y1="443.3" x2="447.5" y2="586.7" stroke="#111" stroke-width="1.3"/>
<line x1="441.3" y1="586.7" x2="652.1" y2="586.7" stroke="#111" stroke-width="1.3"/>
<line x1="441.3" y1="586.6" x2="447.5" y2="586.6" stroke="#111" stroke-width="1.3"/>
<text x="439.0" y="590.0" font-family='"Liberation Serif", serif' font-size="10.2" fill="#1a1a1a" stroke="#1a1a1a" stroke-width="0.1" text-anchor="end">0.0</text>
<line x1="441.3" y1="550.9" x2="447.5" y2="550.9" stroke="#111" stroke-width="1.3"/>
<text x="439.0" y="554.3" font-family='"Liberation Serif", serif' font-size="10.2" fill="#1a1a1a" stroke="#1a1a1a" stroke-width="0.1" text-anchor="end">0.2</text>
<line x1="441.3" y1="515.2" x2="447.5" y2="515.2" stroke="#111" stroke-width="1.3"/>
<text x="439.0" y="518.6" font-family='"Liberation Serif", serif' font-size="10.2" fill="#1a1a1a" stroke="#1a1a1a" stroke-width="0.1" text-anchor="end">0.4</text>
<line x1="441.3" y1="479.4" x2="447.5" y2="479.4" stroke="#111" stroke-width="1.3"/>
<text x="439.0" y="482.8" font-family='"Liberation Serif", serif' font-size="10.2" fill="#1a1a1a" stroke="#1a1a1a" stroke-width="0.1" text-anchor="end">0.6</text>
<line x1="441.3" y1="443.7" x2="447.5" y2="443.7" stroke="#111" stroke-width="1.3"/>
<text x="439.0" y="447.1" font-family='"Liberation Serif", serif' font-size="10.2" fill="#1a1a1a" stroke="#1a1a1a" stroke-width="0.1" text-anchor="end">0.8</text>
<line x1="460.3" y1="586.7" x2="460.3" y2="592.2" stroke="#111" stroke-width="1.3"/>
<text x="460.3" y="605.0" font-family='"Liberation Serif", serif' font-size="10.2" fill="#1a1a1a" stroke="#1a1a1a" stroke-width="0.1" text-anchor="middle">1/3</text>
<line x1="480.2" y1="586.7" x2="480.2" y2="592.2" stroke="#111" stroke-width="1.3"/>
<text x="480.2" y="605.0" font-family='"Liberation Serif", serif' font-size="10.2" fill="#1a1a1a" stroke="#1a1a1a" stroke-width="0.1" text-anchor="middle">2/3</text>
<line x1="500.1" y1="586.7" x2="500.1" y2="592.2" stroke="#111" stroke-width="1.3"/>
<text x="500.1" y="605.0" font-family='"Liberation Serif", serif' font-size="10.2" fill="#1a1a1a" stroke="#1a1a1a" stroke-width="0.1" text-anchor="middle">1</text>
<line x1="519.9" y1="586.7" x2="519.9" y2="592.2" stroke="#111" stroke-width="1.3"/>
<text x="519.9" y="605.0" font-family='"Liberation Serif", serif' font-size="10.2" fill="#1a1a1a" stroke="#1a1a1a" stroke-width="0.1" text-anchor="middle">2</text>
<line x1="539.8" y1="586.7" x2="539.8" y2="592.2" stroke="#111" stroke-width="1.3"/>
<text x="539.8" y="605.0" font-family='"Liberation Serif", serif' font-size="10.2" fill="#1a1a1a" stroke="#1a1a1a" stroke-width="0.1" text-anchor="middle">4</text>
<line x1="559.7" y1="586.7" x2="559.7" y2="592.2" stroke="#111" stroke-width="1.3"/>
<text x="559.7" y="605.0" font-family='"Liberation Serif", serif' font-size="10.2" fill="#1a1a1a" stroke="#1a1a1a" stroke-width="0.1" text-anchor="middle">6</text>
<line x1="579.6" y1="586.7" x2="579.6" y2="592.2" stroke="#111" stroke-width="1.3"/>
<text x="579.6" y="605.0" font-family='"Liberation Serif", serif' font-size="10.2" fill="#1a1a1a" stroke="#1a1a1a" stroke-width="0.1" text-anchor="middle">8</text>
<line x1="599.5" y1="586.7" x2="599.5" y2="592.2" stroke="#111" stroke-width="1.3"/>
<text x="599.5" y="605.0" font-family='"Liberation Serif", serif' font-size="10.2" fill="#1a1a1a" stroke="#1a1a1a" stroke-width="0.1" text-anchor="middle">10</text>
<line x1="619.3" y1="586.7" x2="619.3" y2="592.2" stroke="#111" stroke-width="1.3"/>
<text x="619.3" y="605.0" font-family='"Liberation Serif", serif' font-size="10.2" fill="#1a1a1a" stroke="#1a1a1a" stroke-width="0.1" text-anchor="middle">12</text>
<line x1="639.2" y1="586.7" x2="639.2" y2="592.2" stroke="#111" stroke-width="1.3"/>
<text x="639.2" y="605.0" font-family='"Liberation Serif", serif' font-size="10.2" fill="#1a1a1a" stroke="#1a1a1a" stroke-width="0.1" text-anchor="middle">24</text>
<polyline fill="none" stroke="#3a3a3a" stroke-width="1.15" points="460.4,533.7 480.5,526.5 500.3,525.7 520.2,520.9 539.6,501.5 559.4,482.8 579.6,468.2 599.6,471.7 619.3,470.2 639.0,469.6"/>
<circle cx="460.4" cy="533.7" r="2.8" fill="#111"/>
<circle cx="480.5" cy="526.5" r="2.8" fill="#111"/>
<circle cx="500.3" cy="525.7" r="2.8" fill="#111"/>
<circle cx="520.2" cy="520.9" r="2.8" fill="#111"/>
<circle cx="539.6" cy="501.5" r="2.8" fill="#111"/>
<circle cx="559.4" cy="482.8" r="2.8" fill="#111"/>
<circle cx="579.6" cy="468.2" r="2.8" fill="#111"/>
<circle cx="599.6" cy="471.7" r="2.8" fill="#111"/>
<circle cx="619.3" cy="470.2" r="2.8" fill="#111"/>
<circle cx="639.0" cy="469.6" r="2.8" fill="#111"/>
<text x="535.3" y="620.0" font-family='"Liberation Sans", sans-serif' font-size="9.0" fill="#1a1a1a" stroke="#1a1a1a" stroke-width="0.2">Time</text>
<text y="620.0" font-family='"Liberation Sans", sans-serif' font-size="9.0" fill="#1a1a1a" stroke="#1a1a1a" stroke-width="0.2"><tspan x="563.6">(</tspan><tspan x="567.0">h</tspan><tspan x="573.0">)</tspan></text>
<text transform="translate(414.2,516.5) rotate(-90)" font-family='"Liberation Sans", sans-serif' font-size="9.2" fill="#1a1a1a" stroke="#1a1a1a" stroke-width="0.2" text-anchor="middle">Release rate (%)</text>
</svg>
</body></html>
